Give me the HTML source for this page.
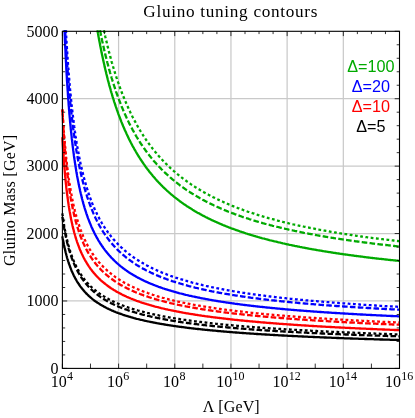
<!DOCTYPE html>
<html><head><meta charset="utf-8"><title>Gluino tuning contours</title>
<style>html,body{margin:0;padding:0;background:#fff;}body{width:415px;height:418px;position:relative;overflow:hidden;font-family:"Liberation Serif",serif;}</style></head>
<body>
<svg width="415" height="418" viewBox="0 0 415 418" style="position:absolute;left:0;top:0;will-change:transform">
<rect width="415" height="418" fill="#fff"/>
<path d="M118.58 31.30 V368.40 M174.77 31.30 V368.40 M230.95 31.30 V368.40 M287.13 31.30 V368.40 M343.32 31.30 V368.40 M62.40 300.98 H399.50 M62.40 233.56 H399.50 M62.40 166.14 H399.50 M62.40 98.72 H399.50" stroke="#000" stroke-opacity="0.21" stroke-width="1.25" fill="none"/>
<g fill="none" stroke-width="2.3" stroke-linejoin="round">
<path d="M97.4 30.3 L97.6 31.3 L97.7 32.1 L97.9 32.9 L98.0 33.7 L98.2 34.5 L98.3 35.3 L98.4 36.1 L98.7 37.6 L99.0 39.2 L99.3 40.7 L99.6 42.2 L99.9 43.7 L100.1 45.2 L100.4 46.6 L100.7 48.1 L101.0 49.5 L101.3 50.9 L101.5 52.3 L101.8 53.6 L102.1 55.0 L102.4 56.3 L102.7 57.7 L103.0 59.0 L103.2 60.3 L103.5 61.6 L103.8 62.8 L104.1 64.1 L104.4 65.3 L104.6 66.6 L104.9 67.8 L105.2 69.0 L105.5 70.2 L105.8 71.4 L106.1 72.5 L106.3 73.7 L106.6 74.8 L106.9 75.9 L107.2 77.1 L107.5 78.2 L107.7 79.3 L108.0 80.4 L108.3 81.4 L108.6 82.5 L108.9 83.6 L109.1 84.6 L109.4 85.6 L109.7 86.7 L110.0 87.7 L110.3 88.7 L110.6 89.7 L110.8 90.6 L111.1 91.6 L111.4 92.6 L111.7 93.5 L112.0 94.5 L112.2 95.4 L112.5 96.4 L112.8 97.3 L113.1 98.2 L113.4 99.1 L113.7 100.0 L113.9 100.9 L114.2 101.8 L114.5 102.6 L114.8 103.5 L115.1 104.3 L115.3 105.2 L115.6 106.0 L115.9 106.9 L116.2 107.7 L116.5 108.5 L116.8 109.3 L117.0 110.1 L117.3 110.9 L117.6 111.7 L117.9 112.5 L118.2 113.3 L118.4 114.1 L119.0 115.6 L119.9 117.8 L120.7 120.0 L121.5 122.1 L122.4 124.2 L123.2 126.2 L124.1 128.2 L124.9 130.2 L125.8 132.0 L126.6 133.9 L127.5 135.7 L128.3 137.5 L129.1 139.2 L130.0 140.9 L130.8 142.5 L131.7 144.2 L132.5 145.8 L133.4 147.3 L134.2 148.8 L135.1 150.3 L135.9 151.8 L136.7 153.2 L137.6 154.6 L138.4 156.0 L139.3 157.3 L140.1 158.7 L141.0 160.0 L141.8 161.2 L142.7 162.5 L143.5 163.7 L144.4 164.9 L145.2 166.1 L146.0 167.3 L146.9 168.4 L147.7 169.5 L148.6 170.6 L149.4 171.7 L150.3 172.8 L151.1 173.8 L152.0 174.8 L152.8 175.9 L153.6 176.8 L154.5 177.8 L155.3 178.8 L156.2 179.7 L157.0 180.7 L157.9 181.6 L158.7 182.5 L159.6 183.4 L160.4 184.2 L161.2 185.1 L162.1 185.9 L162.9 186.8 L163.8 187.6 L164.6 188.4 L165.5 189.2 L166.3 190.0 L167.2 190.8 L168.0 191.5 L168.9 192.3 L169.7 193.0 L170.5 193.8 L171.4 194.5 L172.2 195.2 L173.1 195.9 L173.9 196.6 L174.8 197.3 L175.6 197.9 L176.5 198.6 L177.3 199.2 L178.1 199.9 L179.0 200.5 L179.8 201.2 L180.7 201.8 L181.5 202.4 L182.4 203.0 L183.2 203.6 L184.1 204.2 L184.9 204.7 L185.7 205.3 L186.6 205.9 L187.4 206.4 L188.3 207.0 L189.1 207.5 L190.0 208.1 L190.8 208.6 L191.7 209.1 L192.5 209.7 L193.4 210.2 L194.2 210.7 L195.0 211.2 L195.9 211.7 L196.7 212.2 L197.6 212.7 L198.4 213.1 L199.3 213.6 L200.1 214.1 L201.0 214.5 L201.8 215.0 L202.6 215.4 L203.5 215.9 L204.3 216.3 L205.2 216.8 L206.0 217.2 L206.9 217.6 L207.7 218.1 L208.6 218.5 L209.4 218.9 L210.3 219.3 L211.1 219.7 L211.9 220.1 L212.8 220.5 L213.6 220.9 L214.5 221.3 L215.3 221.7 L216.2 222.0 L217.0 222.4 L217.9 222.8 L218.7 223.2 L219.5 223.5 L220.4 223.9 L221.2 224.2 L222.1 224.6 L222.9 225.0 L223.8 225.3 L224.6 225.6 L225.5 226.0 L226.3 226.3 L227.1 226.7 L228.0 227.0 L228.8 227.3 L229.7 227.6 L230.5 228.0 L231.4 228.3 L232.2 228.6 L233.1 228.9 L233.9 229.2 L234.8 229.5 L235.6 229.8 L236.4 230.1 L237.3 230.4 L238.1 230.7 L239.0 231.0 L239.8 231.3 L240.7 231.6 L241.5 231.9 L242.4 232.2 L243.2 232.4 L244.0 232.7 L244.9 233.0 L245.7 233.3 L246.6 233.5 L247.4 233.8 L248.3 234.1 L249.1 234.3 L250.0 234.6 L250.8 234.9 L251.6 235.1 L252.5 235.4 L253.3 235.6 L254.2 235.9 L255.0 236.1 L255.9 236.4 L256.7 236.6 L257.6 236.9 L258.4 237.1 L259.3 237.3 L260.1 237.6 L260.9 237.8 L261.8 238.1 L262.6 238.3 L263.5 238.5 L264.3 238.7 L265.2 239.0 L266.0 239.2 L266.9 239.4 L267.7 239.6 L268.5 239.8 L269.4 240.1 L270.2 240.3 L271.1 240.5 L271.9 240.7 L272.8 240.9 L273.6 241.1 L274.5 241.3 L275.3 241.5 L276.2 241.7 L277.0 241.9 L277.8 242.1 L278.7 242.3 L279.5 242.5 L280.4 242.7 L281.2 242.9 L282.1 243.1 L282.9 243.3 L283.8 243.5 L284.6 243.7 L285.4 243.9 L286.3 244.1 L287.1 244.3 L288.0 244.4 L288.8 244.6 L289.7 244.8 L290.5 245.0 L291.4 245.2 L292.2 245.4 L293.0 245.5 L293.9 245.7 L294.7 245.9 L295.6 246.1 L296.4 246.2 L297.3 246.4 L298.1 246.6 L299.0 246.7 L299.8 246.9 L300.7 247.1 L301.5 247.2 L302.3 247.4 L303.2 247.6 L304.0 247.7 L304.9 247.9 L305.7 248.0 L306.6 248.2 L307.4 248.4 L308.3 248.5 L309.1 248.7 L309.9 248.8 L310.8 249.0 L311.6 249.1 L312.5 249.3 L313.3 249.4 L314.2 249.6 L315.0 249.7 L315.9 249.9 L316.7 250.0 L317.5 250.2 L318.4 250.3 L319.2 250.4 L320.1 250.6 L320.9 250.7 L321.8 250.9 L322.6 251.0 L323.5 251.2 L324.3 251.3 L325.2 251.4 L326.0 251.6 L326.8 251.7 L327.7 251.8 L328.5 252.0 L329.4 252.1 L330.2 252.2 L331.1 252.4 L331.9 252.5 L332.8 252.6 L333.6 252.8 L334.4 252.9 L335.3 253.0 L336.1 253.1 L337.0 253.3 L337.8 253.4 L338.7 253.5 L339.5 253.6 L340.4 253.8 L341.2 253.9 L342.0 254.0 L342.9 254.1 L343.7 254.3 L344.6 254.4 L345.4 254.5 L346.3 254.6 L347.1 254.7 L348.0 254.8 L348.8 255.0 L349.7 255.1 L350.5 255.2 L351.3 255.3 L352.2 255.4 L353.0 255.5 L353.9 255.6 L354.7 255.8 L355.6 255.9 L356.4 256.0 L357.3 256.1 L358.1 256.2 L358.9 256.3 L359.8 256.4 L360.6 256.5 L361.5 256.6 L362.3 256.7 L363.2 256.8 L364.0 257.0 L364.9 257.1 L365.7 257.2 L366.6 257.3 L367.4 257.4 L368.2 257.5 L369.1 257.6 L369.9 257.7 L370.8 257.8 L371.6 257.9 L372.5 258.0 L373.3 258.1 L374.2 258.2 L375.0 258.3 L375.8 258.4 L376.7 258.5 L377.5 258.6 L378.4 258.7 L379.2 258.8 L380.1 258.9 L380.9 258.9 L381.8 259.0 L382.6 259.1 L383.4 259.2 L384.3 259.3 L385.1 259.4 L386.0 259.5 L386.8 259.6 L387.7 259.7 L388.5 259.8 L389.4 259.9 L390.2 260.0 L391.1 260.1 L391.9 260.1 L392.7 260.2 L393.6 260.3 L394.4 260.4 L395.3 260.5 L396.1 260.6 L397.0 260.7 L397.8 260.7 L398.7 260.8 L399.5 260.9" stroke="#00aa00"/>
<path d="M100.0 30.3 L100.3 31.5 L100.6 32.9 L100.8 34.3 L101.1 35.7 L101.4 37.1 L101.7 38.4 L102.0 39.7 L102.2 41.0 L102.5 42.3 L102.8 43.6 L103.1 44.9 L103.4 46.2 L103.7 47.4 L103.9 48.6 L104.2 49.9 L104.5 51.1 L104.8 52.2 L105.1 53.4 L105.3 54.6 L105.6 55.8 L105.9 56.9 L106.2 58.0 L106.5 59.2 L106.8 60.3 L107.0 61.4 L107.3 62.5 L107.6 63.5 L107.9 64.6 L108.2 65.7 L108.4 66.7 L108.7 67.7 L109.0 68.8 L109.3 69.8 L109.6 70.8 L109.9 71.8 L110.1 72.8 L110.4 73.7 L110.7 74.7 L111.0 75.7 L111.3 76.6 L111.5 77.6 L111.8 78.5 L112.1 79.4 L112.4 80.3 L112.7 81.3 L113.0 82.2 L113.2 83.0 L113.5 83.9 L113.8 84.8 L114.1 85.7 L114.4 86.5 L114.6 87.4 L114.9 88.2 L115.2 89.1 L115.5 89.9 L115.8 90.7 L116.0 91.6 L116.3 92.4 L116.6 93.2 L116.9 94.0 L117.2 94.8 L117.5 95.5 L117.7 96.3 L118.0 97.1 L118.3 97.8 L118.6 98.6 L119.0 99.7 L119.9 101.9 L120.7 104.1 L121.5 106.2 L122.4 108.2 L123.2 110.3 L124.1 112.2 L124.9 114.1 L125.8 116.0 L126.6 117.8 L127.5 119.6 L128.3 121.4 L129.1 123.1 L130.0 124.8 L130.8 126.4 L131.7 128.0 L132.5 129.6 L133.4 131.1 L134.2 132.7 L135.1 134.1 L135.9 135.6 L136.7 137.0 L137.6 138.4 L138.4 139.8 L139.3 141.1 L140.1 142.5 L141.0 143.8 L141.8 145.0 L142.7 146.3 L143.5 147.5 L144.4 148.7 L145.2 149.9 L146.0 151.1 L146.9 152.2 L147.7 153.3 L148.6 154.4 L149.4 155.5 L150.3 156.6 L151.1 157.6 L152.0 158.7 L152.8 159.7 L153.6 160.7 L154.5 161.6 L155.3 162.6 L156.2 163.6 L157.0 164.5 L157.9 165.4 L158.7 166.3 L159.6 167.2 L160.4 168.1 L161.2 169.0 L162.1 169.8 L162.9 170.7 L163.8 171.5 L164.6 172.3 L165.5 173.1 L166.3 173.9 L167.2 174.7 L168.0 175.4 L168.9 176.2 L169.7 176.9 L170.5 177.7 L171.4 178.4 L172.2 179.1 L173.1 179.8 L173.9 180.5 L174.8 181.2 L175.6 181.9 L176.5 182.6 L177.3 183.2 L178.1 183.9 L179.0 184.5 L179.8 185.2 L180.7 185.8 L181.5 186.4 L182.4 187.0 L183.2 187.6 L184.1 188.2 L184.9 188.8 L185.7 189.4 L186.6 190.0 L187.4 190.5 L188.3 191.1 L189.1 191.6 L190.0 192.2 L190.8 192.7 L191.7 193.3 L192.5 193.8 L193.4 194.3 L194.2 194.8 L195.0 195.3 L195.9 195.8 L196.7 196.3 L197.6 196.8 L198.4 197.3 L199.3 197.8 L200.1 198.3 L201.0 198.7 L201.8 199.2 L202.6 199.7 L203.5 200.1 L204.3 200.6 L205.2 201.0 L206.0 201.5 L206.9 201.9 L207.7 202.3 L208.6 202.8 L209.4 203.2 L210.3 203.6 L211.1 204.0 L211.9 204.4 L212.8 204.8 L213.6 205.2 L214.5 205.6 L215.3 206.0 L216.2 206.4 L217.0 206.8 L217.9 207.2 L218.7 207.5 L219.5 207.9 L220.4 208.3 L221.2 208.7 L222.1 209.0 L222.9 209.4 L223.8 209.7 L224.6 210.1 L225.5 210.4 L226.3 210.8 L227.1 211.1 L228.0 211.5 L228.8 211.8 L229.7 212.1 L230.5 212.5 L231.4 212.8 L232.2 213.1 L233.1 213.4 L233.9 213.7 L234.8 214.1 L235.6 214.4 L236.4 214.7 L237.3 215.0 L238.1 215.3 L239.0 215.6 L239.8 215.9 L240.7 216.2 L241.5 216.5 L242.4 216.8 L243.2 217.1 L244.0 217.3 L244.9 217.6 L245.7 217.9 L246.6 218.2 L247.4 218.5 L248.3 218.7 L249.1 219.0 L250.0 219.3 L250.8 219.5 L251.6 219.8 L252.5 220.1 L253.3 220.3 L254.2 220.6 L255.0 220.8 L255.9 221.1 L256.7 221.3 L257.6 221.6 L258.4 221.8 L259.3 222.1 L260.1 222.3 L260.9 222.6 L261.8 222.8 L262.6 223.1 L263.5 223.3 L264.3 223.5 L265.2 223.8 L266.0 224.0 L266.9 224.2 L267.7 224.4 L268.5 224.7 L269.4 224.9 L270.2 225.1 L271.1 225.3 L271.9 225.5 L272.8 225.8 L273.6 226.0 L274.5 226.2 L275.3 226.4 L276.2 226.6 L277.0 226.8 L277.8 227.0 L278.7 227.2 L279.5 227.4 L280.4 227.6 L281.2 227.8 L282.1 228.0 L282.9 228.2 L283.8 228.4 L284.6 228.6 L285.4 228.8 L286.3 229.0 L287.1 229.2 L288.0 229.4 L288.8 229.6 L289.7 229.8 L290.5 230.0 L291.4 230.2 L292.2 230.3 L293.0 230.5 L293.9 230.7 L294.7 230.9 L295.6 231.1 L296.4 231.2 L297.3 231.4 L298.1 231.6 L299.0 231.8 L299.8 231.9 L300.7 232.1 L301.5 232.3 L302.3 232.5 L303.2 232.6 L304.0 232.8 L304.9 233.0 L305.7 233.1 L306.6 233.3 L307.4 233.4 L308.3 233.6 L309.1 233.8 L309.9 233.9 L310.8 234.1 L311.6 234.2 L312.5 234.4 L313.3 234.6 L314.2 234.7 L315.0 234.9 L315.9 235.0 L316.7 235.2 L317.5 235.3 L318.4 235.5 L319.2 235.6 L320.1 235.8 L320.9 235.9 L321.8 236.1 L322.6 236.2 L323.5 236.4 L324.3 236.5 L325.2 236.6 L326.0 236.8 L326.8 236.9 L327.7 237.1 L328.5 237.2 L329.4 237.3 L330.2 237.5 L331.1 237.6 L331.9 237.8 L332.8 237.9 L333.6 238.0 L334.4 238.2 L335.3 238.3 L336.1 238.4 L337.0 238.6 L337.8 238.7 L338.7 238.8 L339.5 238.9 L340.4 239.1 L341.2 239.2 L342.0 239.3 L342.9 239.4 L343.7 239.6 L344.6 239.7 L345.4 239.8 L346.3 239.9 L347.1 240.1 L348.0 240.2 L348.8 240.3 L349.7 240.4 L350.5 240.6 L351.3 240.7 L352.2 240.8 L353.0 240.9 L353.9 241.0 L354.7 241.1 L355.6 241.3 L356.4 241.4 L357.3 241.5 L358.1 241.6 L358.9 241.7 L359.8 241.8 L360.6 241.9 L361.5 242.1 L362.3 242.2 L363.2 242.3 L364.0 242.4 L364.9 242.5 L365.7 242.6 L366.6 242.7 L367.4 242.8 L368.2 242.9 L369.1 243.0 L369.9 243.1 L370.8 243.2 L371.6 243.3 L372.5 243.5 L373.3 243.6 L374.2 243.7 L375.0 243.8 L375.8 243.9 L376.7 244.0 L377.5 244.1 L378.4 244.2 L379.2 244.3 L380.1 244.4 L380.9 244.5 L381.8 244.6 L382.6 244.7 L383.4 244.8 L384.3 244.9 L385.1 245.0 L386.0 245.0 L386.8 245.1 L387.7 245.2 L388.5 245.3 L389.4 245.4 L390.2 245.5 L391.1 245.6 L391.9 245.7 L392.7 245.8 L393.6 245.9 L394.4 246.0 L395.3 246.1 L396.1 246.2 L397.0 246.3 L397.8 246.3 L398.7 246.4 L399.5 246.5" stroke="#00aa00" stroke-dasharray="5.6 2.3"/>
<path d="M103.9 30.3 L104.2 31.7 L104.5 33.0 L104.8 34.2 L105.1 35.5 L105.3 36.7 L105.6 38.0 L105.9 39.2 L106.2 40.4 L106.5 41.6 L106.8 42.8 L107.0 44.0 L107.3 45.1 L107.6 46.3 L107.9 47.4 L108.2 48.5 L108.4 49.7 L108.7 50.8 L109.0 51.9 L109.3 52.9 L109.6 54.0 L109.9 55.1 L110.1 56.1 L110.4 57.2 L110.7 58.2 L111.0 59.2 L111.3 60.2 L111.5 61.3 L111.8 62.3 L112.1 63.2 L112.4 64.2 L112.7 65.2 L113.0 66.1 L113.2 67.1 L113.5 68.0 L113.8 69.0 L114.1 69.9 L114.4 70.8 L114.6 71.7 L114.9 72.6 L115.2 73.5 L115.5 74.4 L115.8 75.3 L116.0 76.2 L116.3 77.0 L116.6 77.9 L116.9 78.7 L117.2 79.6 L117.5 80.4 L117.7 81.3 L118.0 82.1 L118.3 82.9 L118.6 83.7 L119.0 84.9 L119.9 87.3 L120.7 89.6 L121.5 91.8 L122.4 94.0 L123.2 96.1 L124.1 98.2 L124.9 100.3 L125.8 102.3 L126.6 104.2 L127.5 106.1 L128.3 108.0 L129.1 109.8 L130.0 111.6 L130.8 113.4 L131.7 115.1 L132.5 116.8 L133.4 118.4 L134.2 120.1 L135.1 121.6 L135.9 123.2 L136.7 124.7 L137.6 126.2 L138.4 127.7 L139.3 129.1 L140.1 130.5 L141.0 131.9 L141.8 133.2 L142.7 134.6 L143.5 135.9 L144.4 137.2 L145.2 138.4 L146.0 139.7 L146.9 140.9 L147.7 142.1 L148.6 143.3 L149.4 144.4 L150.3 145.6 L151.1 146.7 L152.0 147.8 L152.8 148.9 L153.6 149.9 L154.5 151.0 L155.3 152.0 L156.2 153.0 L157.0 154.0 L157.9 155.0 L158.7 156.0 L159.6 156.9 L160.4 157.8 L161.2 158.8 L162.1 159.7 L162.9 160.6 L163.8 161.5 L164.6 162.3 L165.5 163.2 L166.3 164.0 L167.2 164.9 L168.0 165.7 L168.9 166.5 L169.7 167.3 L170.5 168.1 L171.4 168.8 L172.2 169.6 L173.1 170.4 L173.9 171.1 L174.8 171.8 L175.6 172.6 L176.5 173.3 L177.3 174.0 L178.1 174.7 L179.0 175.4 L179.8 176.0 L180.7 176.7 L181.5 177.4 L182.4 178.0 L183.2 178.7 L184.1 179.3 L184.9 179.9 L185.7 180.5 L186.6 181.2 L187.4 181.8 L188.3 182.4 L189.1 182.9 L190.0 183.5 L190.8 184.1 L191.7 184.7 L192.5 185.2 L193.4 185.8 L194.2 186.3 L195.0 186.9 L195.9 187.4 L196.7 187.9 L197.6 188.5 L198.4 189.0 L199.3 189.5 L200.1 190.0 L201.0 190.5 L201.8 191.0 L202.6 191.5 L203.5 192.0 L204.3 192.5 L205.2 192.9 L206.0 193.4 L206.9 193.9 L207.7 194.3 L208.6 194.8 L209.4 195.2 L210.3 195.7 L211.1 196.1 L211.9 196.5 L212.8 197.0 L213.6 197.4 L214.5 197.8 L215.3 198.2 L216.2 198.6 L217.0 199.1 L217.9 199.5 L218.7 199.9 L219.5 200.3 L220.4 200.7 L221.2 201.0 L222.1 201.4 L222.9 201.8 L223.8 202.2 L224.6 202.6 L225.5 202.9 L226.3 203.3 L227.1 203.7 L228.0 204.0 L228.8 204.4 L229.7 204.7 L230.5 205.1 L231.4 205.4 L232.2 205.8 L233.1 206.1 L233.9 206.5 L234.8 206.8 L235.6 207.1 L236.4 207.4 L237.3 207.8 L238.1 208.1 L239.0 208.4 L239.8 208.7 L240.7 209.0 L241.5 209.4 L242.4 209.7 L243.2 210.0 L244.0 210.3 L244.9 210.6 L245.7 210.9 L246.6 211.2 L247.4 211.5 L248.3 211.8 L249.1 212.0 L250.0 212.3 L250.8 212.6 L251.6 212.9 L252.5 213.2 L253.3 213.4 L254.2 213.7 L255.0 214.0 L255.9 214.3 L256.7 214.5 L257.6 214.8 L258.4 215.1 L259.3 215.3 L260.1 215.6 L260.9 215.8 L261.8 216.1 L262.6 216.3 L263.5 216.6 L264.3 216.8 L265.2 217.1 L266.0 217.3 L266.9 217.6 L267.7 217.8 L268.5 218.1 L269.4 218.3 L270.2 218.5 L271.1 218.8 L271.9 219.0 L272.8 219.2 L273.6 219.4 L274.5 219.7 L275.3 219.9 L276.2 220.1 L277.0 220.3 L277.8 220.6 L278.7 220.8 L279.5 221.0 L280.4 221.2 L281.2 221.4 L282.1 221.6 L282.9 221.9 L283.8 222.1 L284.6 222.3 L285.4 222.5 L286.3 222.7 L287.1 222.9 L288.0 223.1 L288.8 223.3 L289.7 223.5 L290.5 223.7 L291.4 223.9 L292.2 224.1 L293.0 224.3 L293.9 224.5 L294.7 224.7 L295.6 224.8 L296.4 225.0 L297.3 225.2 L298.1 225.4 L299.0 225.6 L299.8 225.8 L300.7 226.0 L301.5 226.1 L302.3 226.3 L303.2 226.5 L304.0 226.7 L304.9 226.8 L305.7 227.0 L306.6 227.2 L307.4 227.4 L308.3 227.5 L309.1 227.7 L309.9 227.9 L310.8 228.0 L311.6 228.2 L312.5 228.4 L313.3 228.5 L314.2 228.7 L315.0 228.9 L315.9 229.0 L316.7 229.2 L317.5 229.4 L318.4 229.5 L319.2 229.7 L320.1 229.8 L320.9 230.0 L321.8 230.1 L322.6 230.3 L323.5 230.4 L324.3 230.6 L325.2 230.7 L326.0 230.9 L326.8 231.0 L327.7 231.2 L328.5 231.3 L329.4 231.5 L330.2 231.6 L331.1 231.8 L331.9 231.9 L332.8 232.1 L333.6 232.2 L334.4 232.4 L335.3 232.5 L336.1 232.6 L337.0 232.8 L337.8 232.9 L338.7 233.0 L339.5 233.2 L340.4 233.3 L341.2 233.5 L342.0 233.6 L342.9 233.7 L343.7 233.9 L344.6 234.0 L345.4 234.1 L346.3 234.2 L347.1 234.4 L348.0 234.5 L348.8 234.6 L349.7 234.8 L350.5 234.9 L351.3 235.0 L352.2 235.1 L353.0 235.3 L353.9 235.4 L354.7 235.5 L355.6 235.6 L356.4 235.8 L357.3 235.9 L358.1 236.0 L358.9 236.1 L359.8 236.2 L360.6 236.4 L361.5 236.5 L362.3 236.6 L363.2 236.7 L364.0 236.8 L364.9 236.9 L365.7 237.1 L366.6 237.2 L367.4 237.3 L368.2 237.4 L369.1 237.5 L369.9 237.6 L370.8 237.7 L371.6 237.8 L372.5 238.0 L373.3 238.1 L374.2 238.2 L375.0 238.3 L375.8 238.4 L376.7 238.5 L377.5 238.6 L378.4 238.7 L379.2 238.8 L380.1 238.9 L380.9 239.0 L381.8 239.1 L382.6 239.2 L383.4 239.3 L384.3 239.4 L385.1 239.5 L386.0 239.6 L386.8 239.7 L387.7 239.8 L388.5 239.9 L389.4 240.0 L390.2 240.1 L391.1 240.2 L391.9 240.3 L392.7 240.4 L393.6 240.5 L394.4 240.6 L395.3 240.7 L396.1 240.8 L397.0 240.9 L397.8 241.0 L398.7 241.1 L399.5 241.2" stroke="#00aa00" stroke-dasharray="2.8 2.5"/>
<path d="M64.5 30.3 L64.7 33.7 L64.8 37.0 L64.9 40.3 L65.1 43.5 L65.2 46.6 L65.4 49.6 L65.5 52.5 L65.6 55.4 L65.8 58.3 L65.9 61.0 L66.1 63.7 L66.2 66.3 L66.3 68.9 L66.5 71.4 L66.6 73.9 L66.8 76.3 L66.9 78.7 L67.0 81.0 L67.2 83.2 L67.3 85.5 L67.5 87.6 L67.6 89.8 L67.8 91.9 L67.9 93.9 L68.0 95.9 L68.2 97.9 L68.3 99.8 L68.5 101.7 L68.6 103.6 L68.7 105.4 L68.9 107.2 L69.0 109.0 L69.2 110.7 L69.3 112.4 L69.4 114.1 L69.6 115.7 L69.7 117.3 L69.9 118.9 L70.0 120.5 L70.1 122.0 L70.3 123.5 L70.4 125.0 L70.6 126.5 L70.7 127.9 L70.8 129.3 L71.0 130.7 L71.1 132.1 L71.3 133.5 L71.4 134.8 L71.6 136.1 L71.7 137.4 L71.8 138.7 L72.0 139.9 L72.1 141.2 L72.3 142.4 L72.4 143.6 L72.5 144.8 L72.7 145.9 L72.8 147.1 L73.0 148.2 L73.1 149.3 L73.2 150.4 L73.4 151.5 L73.5 152.6 L73.7 153.7 L73.8 154.7 L73.9 155.7 L74.1 156.8 L74.2 157.8 L74.4 158.8 L74.5 159.7 L74.7 160.7 L74.8 161.7 L74.9 162.6 L75.1 163.5 L75.2 164.5 L75.4 165.4 L75.5 166.3 L75.6 167.1 L75.8 168.0 L75.9 168.9 L76.1 169.7 L76.2 170.6 L76.3 171.4 L76.5 172.3 L76.6 173.1 L76.8 173.9 L76.9 174.7 L77.0 175.5 L77.3 177.0 L77.6 178.5 L77.9 180.0 L78.2 181.5 L78.5 182.9 L78.7 184.3 L79.0 185.6 L79.3 187.0 L79.6 188.3 L79.9 189.6 L80.1 190.8 L80.4 192.0 L80.7 193.3 L81.0 194.4 L81.3 195.6 L81.6 196.7 L81.8 197.9 L82.1 199.0 L82.4 200.0 L82.7 201.1 L83.0 202.1 L83.2 203.2 L83.5 204.2 L83.8 205.1 L84.1 206.1 L84.4 207.1 L84.6 208.0 L84.9 208.9 L85.2 209.8 L85.5 210.7 L85.8 211.6 L86.1 212.5 L86.3 213.3 L86.6 214.1 L86.9 215.0 L87.2 215.8 L87.5 216.6 L87.7 217.4 L88.0 218.1 L88.3 218.9 L88.6 219.6 L89.0 220.7 L89.4 221.8 L89.9 222.9 L90.3 223.9 L90.7 224.9 L91.1 225.9 L91.5 226.9 L92.0 227.9 L92.4 228.8 L92.8 229.7 L93.2 230.6 L93.7 231.5 L94.1 232.3 L94.5 233.2 L94.9 234.0 L95.3 234.8 L95.8 235.6 L96.2 236.4 L96.6 237.2 L97.0 238.0 L97.5 238.7 L97.9 239.4 L98.3 240.2 L98.7 240.9 L99.2 241.6 L99.6 242.2 L100.1 243.1 L100.7 244.0 L101.3 244.9 L101.8 245.7 L102.4 246.5 L103.0 247.3 L103.5 248.1 L104.1 248.9 L104.6 249.6 L105.2 250.4 L105.8 251.1 L106.3 251.8 L106.9 252.5 L107.5 253.2 L108.0 253.9 L108.6 254.5 L109.1 255.2 L109.7 255.8 L110.3 256.4 L110.8 257.1 L111.4 257.7 L112.0 258.3 L112.5 258.8 L113.1 259.4 L113.8 260.1 L114.5 260.8 L115.2 261.5 L115.9 262.1 L116.6 262.8 L117.3 263.4 L118.0 264.0 L119.0 264.9 L119.9 265.6 L120.7 266.3 L121.5 266.9 L122.4 267.6 L123.2 268.3 L124.1 268.9 L124.9 269.5 L125.8 270.1 L126.6 270.7 L127.5 271.3 L128.3 271.9 L129.1 272.4 L130.0 273.0 L130.8 273.5 L131.7 274.0 L132.5 274.5 L133.4 275.1 L134.2 275.5 L135.1 276.0 L135.9 276.5 L136.7 277.0 L137.6 277.4 L138.4 277.9 L139.3 278.3 L140.1 278.8 L141.0 279.2 L141.8 279.6 L142.7 280.0 L143.5 280.5 L144.4 280.9 L145.2 281.3 L146.0 281.6 L146.9 282.0 L147.7 282.4 L148.6 282.8 L149.4 283.1 L150.3 283.5 L151.1 283.8 L152.0 284.2 L152.8 284.5 L153.6 284.9 L154.5 285.2 L155.3 285.5 L156.2 285.8 L157.0 286.2 L157.9 286.5 L158.7 286.8 L159.6 287.1 L160.4 287.4 L161.2 287.7 L162.1 288.0 L162.9 288.3 L163.8 288.5 L164.6 288.8 L165.5 289.1 L166.3 289.4 L167.2 289.6 L168.0 289.9 L168.9 290.2 L169.7 290.4 L170.5 290.7 L171.4 290.9 L172.2 291.2 L173.1 291.4 L173.9 291.7 L174.8 291.9 L175.6 292.1 L176.5 292.4 L177.3 292.6 L178.1 292.8 L179.0 293.1 L179.8 293.3 L180.7 293.5 L181.5 293.7 L182.4 293.9 L183.2 294.1 L184.1 294.4 L184.9 294.6 L185.7 294.8 L186.6 295.0 L187.4 295.2 L188.3 295.4 L189.1 295.6 L190.0 295.8 L190.8 295.9 L191.7 296.1 L192.5 296.3 L193.4 296.5 L194.2 296.7 L195.0 296.9 L195.9 297.0 L196.7 297.2 L197.6 297.4 L198.4 297.6 L199.3 297.7 L200.1 297.9 L201.0 298.1 L201.8 298.3 L202.6 298.4 L203.5 298.6 L204.3 298.7 L205.2 298.9 L206.0 299.1 L206.9 299.2 L207.7 299.4 L208.6 299.5 L209.4 299.7 L210.3 299.8 L211.1 300.0 L211.9 300.1 L212.8 300.3 L213.6 300.4 L214.5 300.6 L215.3 300.7 L216.2 300.9 L217.0 301.0 L217.9 301.1 L218.7 301.3 L219.5 301.4 L220.4 301.5 L221.2 301.7 L222.1 301.8 L222.9 301.9 L223.8 302.1 L224.6 302.2 L225.5 302.3 L226.3 302.5 L227.1 302.6 L228.0 302.7 L228.8 302.8 L229.7 302.9 L230.5 303.1 L231.4 303.2 L232.2 303.3 L233.1 303.4 L233.9 303.5 L234.8 303.7 L235.6 303.8 L236.4 303.9 L237.3 304.0 L238.1 304.1 L239.0 304.2 L239.8 304.3 L240.7 304.5 L241.5 304.6 L242.4 304.7 L243.2 304.8 L244.0 304.9 L244.9 305.0 L245.7 305.1 L246.6 305.2 L247.4 305.3 L248.3 305.4 L249.1 305.5 L250.0 305.6 L250.8 305.7 L251.6 305.8 L252.5 305.9 L253.3 306.0 L254.2 306.1 L255.0 306.2 L255.9 306.3 L256.7 306.4 L257.6 306.5 L258.4 306.6 L259.3 306.7 L260.1 306.8 L260.9 306.9 L261.8 306.9 L262.6 307.0 L263.5 307.1 L264.3 307.2 L265.2 307.3 L266.0 307.4 L266.9 307.5 L267.7 307.6 L268.5 307.7 L269.4 307.7 L270.2 307.8 L271.1 307.9 L271.9 308.0 L272.8 308.1 L273.6 308.2 L274.5 308.2 L275.3 308.3 L276.2 308.4 L277.0 308.5 L277.8 308.6 L278.7 308.6 L279.5 308.7 L280.4 308.8 L281.2 308.9 L282.1 309.0 L282.9 309.0 L283.8 309.1 L284.6 309.2 L285.4 309.3 L286.3 309.3 L287.1 309.4 L288.0 309.5 L288.8 309.6 L289.7 309.6 L290.5 309.7 L291.4 309.8 L292.2 309.8 L293.0 309.9 L293.9 310.0 L294.7 310.1 L295.6 310.1 L296.4 310.2 L297.3 310.3 L298.1 310.3 L299.0 310.4 L299.8 310.5 L300.7 310.5 L301.5 310.6 L302.3 310.7 L303.2 310.7 L304.0 310.8 L304.9 310.9 L305.7 310.9 L306.6 311.0 L307.4 311.1 L308.3 311.1 L309.1 311.2 L309.9 311.2 L310.8 311.3 L311.6 311.4 L312.5 311.4 L313.3 311.5 L314.2 311.6 L315.0 311.6 L315.9 311.7 L316.7 311.7 L317.5 311.8 L318.4 311.9 L319.2 311.9 L320.1 312.0 L320.9 312.0 L321.8 312.1 L322.6 312.1 L323.5 312.2 L324.3 312.3 L325.2 312.3 L326.0 312.4 L326.8 312.4 L327.7 312.5 L328.5 312.5 L329.4 312.6 L330.2 312.7 L331.1 312.7 L331.9 312.8 L332.8 312.8 L333.6 312.9 L334.4 312.9 L335.3 313.0 L336.1 313.0 L337.0 313.1 L337.8 313.1 L338.7 313.2 L339.5 313.2 L340.4 313.3 L341.2 313.3 L342.0 313.4 L342.9 313.4 L343.7 313.5 L344.6 313.5 L345.4 313.6 L346.3 313.6 L347.1 313.7 L348.0 313.7 L348.8 313.8 L349.7 313.8 L350.5 313.9 L351.3 313.9 L352.2 314.0 L353.0 314.0 L353.9 314.1 L354.7 314.1 L355.6 314.2 L356.4 314.2 L357.3 314.3 L358.1 314.3 L358.9 314.4 L359.8 314.4 L360.6 314.5 L361.5 314.5 L362.3 314.5 L363.2 314.6 L364.0 314.6 L364.9 314.7 L365.7 314.7 L366.6 314.8 L367.4 314.8 L368.2 314.9 L369.1 314.9 L369.9 314.9 L370.8 315.0 L371.6 315.0 L372.5 315.1 L373.3 315.1 L374.2 315.2 L375.0 315.2 L375.8 315.2 L376.7 315.3 L377.5 315.3 L378.4 315.4 L379.2 315.4 L380.1 315.4 L380.9 315.5 L381.8 315.5 L382.6 315.6 L383.4 315.6 L384.3 315.6 L385.1 315.7 L386.0 315.7 L386.8 315.8 L387.7 315.8 L388.5 315.8 L389.4 315.9 L390.2 315.9 L391.1 316.0 L391.9 316.0 L392.7 316.0 L393.6 316.1 L394.4 316.1 L395.3 316.2 L396.1 316.2 L397.0 316.2 L397.8 316.3 L398.7 316.3 L399.5 316.3" stroke="#0000ff"/>
<path d="M65.1 30.3 L65.2 32.4 L65.4 35.0 L65.5 37.6 L65.6 40.1 L65.8 42.5 L65.9 45.0 L66.1 47.3 L66.2 49.6 L66.3 51.9 L66.5 54.2 L66.6 56.4 L66.8 58.5 L66.9 60.6 L67.0 62.7 L67.2 64.8 L67.3 66.8 L67.5 68.8 L67.6 70.7 L67.8 72.6 L67.9 74.5 L68.0 76.4 L68.2 78.2 L68.3 80.0 L68.5 81.7 L68.6 83.5 L68.7 85.2 L68.9 86.9 L69.0 88.5 L69.2 90.2 L69.3 91.8 L69.4 93.3 L69.6 94.9 L69.7 96.4 L69.9 98.0 L70.0 99.5 L70.1 100.9 L70.3 102.4 L70.4 103.8 L70.6 105.2 L70.7 106.6 L70.8 108.0 L71.0 109.3 L71.1 110.7 L71.3 112.0 L71.4 113.3 L71.6 114.6 L71.7 115.8 L71.8 117.1 L72.0 118.3 L72.1 119.5 L72.3 120.7 L72.4 121.9 L72.5 123.1 L72.7 124.3 L72.8 125.4 L73.0 126.5 L73.1 127.6 L73.2 128.7 L73.4 129.8 L73.5 130.9 L73.7 132.0 L73.8 133.0 L73.9 134.0 L74.1 135.1 L74.2 136.1 L74.4 137.1 L74.5 138.1 L74.7 139.1 L74.8 140.0 L74.9 141.0 L75.1 141.9 L75.2 142.9 L75.4 143.8 L75.5 144.7 L75.6 145.6 L75.8 146.5 L75.9 147.4 L76.1 148.3 L76.2 149.1 L76.3 150.0 L76.5 150.8 L76.6 151.7 L76.8 152.5 L76.9 153.3 L77.0 154.1 L77.2 154.9 L77.3 155.7 L77.5 156.5 L77.7 158.1 L78.0 159.6 L78.3 161.1 L78.6 162.5 L78.9 164.0 L79.2 165.4 L79.4 166.8 L79.7 168.1 L80.0 169.5 L80.3 170.8 L80.6 172.0 L80.8 173.3 L81.1 174.5 L81.4 175.8 L81.7 177.0 L82.0 178.1 L82.3 179.3 L82.5 180.4 L82.8 181.5 L83.1 182.6 L83.4 183.7 L83.7 184.8 L83.9 185.8 L84.2 186.9 L84.5 187.9 L84.8 188.9 L85.1 189.8 L85.4 190.8 L85.6 191.8 L85.9 192.7 L86.2 193.6 L86.5 194.5 L86.8 195.4 L87.0 196.3 L87.3 197.2 L87.6 198.0 L87.9 198.9 L88.2 199.7 L88.4 200.5 L88.7 201.3 L89.0 202.1 L89.3 202.9 L89.6 203.7 L89.9 204.5 L90.1 205.2 L90.6 206.3 L91.0 207.4 L91.4 208.5 L91.8 209.6 L92.3 210.6 L92.7 211.6 L93.1 212.6 L93.5 213.6 L93.9 214.5 L94.4 215.5 L94.8 216.4 L95.2 217.3 L95.6 218.2 L96.1 219.1 L96.5 219.9 L96.9 220.8 L97.3 221.6 L97.7 222.4 L98.2 223.2 L98.6 224.0 L99.0 224.8 L99.4 225.5 L99.9 226.3 L100.3 227.0 L100.7 227.8 L101.1 228.5 L101.5 229.2 L102.0 229.9 L102.4 230.6 L103.0 231.5 L103.5 232.3 L104.1 233.2 L104.6 234.0 L105.2 234.9 L105.8 235.7 L106.3 236.5 L106.9 237.3 L107.5 238.0 L108.0 238.8 L108.6 239.5 L109.1 240.2 L109.7 241.0 L110.3 241.7 L110.8 242.4 L111.4 243.0 L112.0 243.7 L112.5 244.4 L113.1 245.0 L113.7 245.6 L114.2 246.3 L114.8 246.9 L115.3 247.5 L115.9 248.1 L116.5 248.6 L117.0 249.2 L117.7 249.9 L118.4 250.6 L119.9 252.0 L120.7 252.7 L121.5 253.5 L122.4 254.3 L123.2 255.0 L124.1 255.7 L124.9 256.4 L125.8 257.1 L126.6 257.8 L127.5 258.4 L128.3 259.1 L129.1 259.7 L130.0 260.3 L130.8 260.9 L131.7 261.5 L132.5 262.1 L133.4 262.7 L134.2 263.3 L135.1 263.8 L135.9 264.4 L136.7 264.9 L137.6 265.4 L138.4 265.9 L139.3 266.4 L140.1 266.9 L141.0 267.4 L141.8 267.9 L142.7 268.4 L143.5 268.9 L144.4 269.3 L145.2 269.8 L146.0 270.2 L146.9 270.6 L147.7 271.1 L148.6 271.5 L149.4 271.9 L150.3 272.3 L151.1 272.7 L152.0 273.1 L152.8 273.5 L153.6 273.9 L154.5 274.3 L155.3 274.6 L156.2 275.0 L157.0 275.4 L157.9 275.7 L158.7 276.1 L159.6 276.4 L160.4 276.8 L161.2 277.1 L162.1 277.4 L162.9 277.8 L163.8 278.1 L164.6 278.4 L165.5 278.7 L166.3 279.0 L167.2 279.3 L168.0 279.6 L168.9 279.9 L169.7 280.2 L170.5 280.5 L171.4 280.8 L172.2 281.1 L173.1 281.4 L173.9 281.6 L174.8 281.9 L175.6 282.2 L176.5 282.5 L177.3 282.7 L178.1 283.0 L179.0 283.2 L179.8 283.5 L180.7 283.7 L181.5 284.0 L182.4 284.2 L183.2 284.5 L184.1 284.7 L184.9 284.9 L185.7 285.2 L186.6 285.4 L187.4 285.6 L188.3 285.9 L189.1 286.1 L190.0 286.3 L190.8 286.5 L191.7 286.7 L192.5 287.0 L193.4 287.2 L194.2 287.4 L195.0 287.6 L195.9 287.8 L196.7 288.0 L197.6 288.2 L198.4 288.4 L199.3 288.6 L200.1 288.8 L201.0 289.0 L201.8 289.2 L202.6 289.4 L203.5 289.5 L204.3 289.7 L205.2 289.9 L206.0 290.1 L206.9 290.3 L207.7 290.4 L208.6 290.6 L209.4 290.8 L210.3 291.0 L211.1 291.1 L211.9 291.3 L212.8 291.5 L213.6 291.6 L214.5 291.8 L215.3 292.0 L216.2 292.1 L217.0 292.3 L217.9 292.4 L218.7 292.6 L219.5 292.8 L220.4 292.9 L221.2 293.1 L222.1 293.2 L222.9 293.4 L223.8 293.5 L224.6 293.7 L225.5 293.8 L226.3 293.9 L227.1 294.1 L228.0 294.2 L228.8 294.4 L229.7 294.5 L230.5 294.7 L231.4 294.8 L232.2 294.9 L233.1 295.1 L233.9 295.2 L234.8 295.3 L235.6 295.5 L236.4 295.6 L237.3 295.7 L238.1 295.9 L239.0 296.0 L239.8 296.1 L240.7 296.2 L241.5 296.4 L242.4 296.5 L243.2 296.6 L244.0 296.7 L244.9 296.8 L245.7 297.0 L246.6 297.1 L247.4 297.2 L248.3 297.3 L249.1 297.4 L250.0 297.5 L250.8 297.7 L251.6 297.8 L252.5 297.9 L253.3 298.0 L254.2 298.1 L255.0 298.2 L255.9 298.3 L256.7 298.4 L257.6 298.5 L258.4 298.6 L259.3 298.8 L260.1 298.9 L260.9 299.0 L261.8 299.1 L262.6 299.2 L263.5 299.3 L264.3 299.4 L265.2 299.5 L266.0 299.6 L266.9 299.7 L267.7 299.8 L268.5 299.9 L269.4 300.0 L270.2 300.1 L271.1 300.2 L271.9 300.3 L272.8 300.3 L273.6 300.4 L274.5 300.5 L275.3 300.6 L276.2 300.7 L277.0 300.8 L277.8 300.9 L278.7 301.0 L279.5 301.1 L280.4 301.2 L281.2 301.3 L282.1 301.3 L282.9 301.4 L283.8 301.5 L284.6 301.6 L285.4 301.7 L286.3 301.8 L287.1 301.9 L288.0 301.9 L288.8 302.0 L289.7 302.1 L290.5 302.2 L291.4 302.3 L292.2 302.4 L293.0 302.4 L293.9 302.5 L294.7 302.6 L295.6 302.7 L296.4 302.7 L297.3 302.8 L298.1 302.9 L299.0 303.0 L299.8 303.1 L300.7 303.1 L301.5 303.2 L302.3 303.3 L303.2 303.4 L304.0 303.4 L304.9 303.5 L305.7 303.6 L306.6 303.7 L307.4 303.7 L308.3 303.8 L309.1 303.9 L309.9 303.9 L310.8 304.0 L311.6 304.1 L312.5 304.2 L313.3 304.2 L314.2 304.3 L315.0 304.4 L315.9 304.4 L316.7 304.5 L317.5 304.6 L318.4 304.6 L319.2 304.7 L320.1 304.8 L320.9 304.8 L321.8 304.9 L322.6 305.0 L323.5 305.0 L324.3 305.1 L325.2 305.2 L326.0 305.2 L326.8 305.3 L327.7 305.3 L328.5 305.4 L329.4 305.5 L330.2 305.5 L331.1 305.6 L331.9 305.7 L332.8 305.7 L333.6 305.8 L334.4 305.8 L335.3 305.9 L336.1 306.0 L337.0 306.0 L337.8 306.1 L338.7 306.1 L339.5 306.2 L340.4 306.3 L341.2 306.3 L342.0 306.4 L342.9 306.4 L343.7 306.5 L344.6 306.5 L345.4 306.6 L346.3 306.7 L347.1 306.7 L348.0 306.8 L348.8 306.8 L349.7 306.9 L350.5 306.9 L351.3 307.0 L352.2 307.0 L353.0 307.1 L353.9 307.1 L354.7 307.2 L355.6 307.3 L356.4 307.3 L357.3 307.4 L358.1 307.4 L358.9 307.5 L359.8 307.5 L360.6 307.6 L361.5 307.6 L362.3 307.7 L363.2 307.7 L364.0 307.8 L364.9 307.8 L365.7 307.9 L366.6 307.9 L367.4 308.0 L368.2 308.0 L369.1 308.1 L369.9 308.1 L370.8 308.2 L371.6 308.2 L372.5 308.3 L373.3 308.3 L374.2 308.4 L375.0 308.4 L375.8 308.5 L376.7 308.5 L377.5 308.5 L378.4 308.6 L379.2 308.6 L380.1 308.7 L380.9 308.7 L381.8 308.8 L382.6 308.8 L383.4 308.9 L384.3 308.9 L385.1 309.0 L386.0 309.0 L386.8 309.0 L387.7 309.1 L388.5 309.1 L389.4 309.2 L390.2 309.2 L391.1 309.3 L391.9 309.3 L392.7 309.4 L393.6 309.4 L394.4 309.4 L395.3 309.5 L396.1 309.5 L397.0 309.6 L397.8 309.6 L398.7 309.7 L399.5 309.7" stroke="#0000ff" stroke-dasharray="5.6 2.3"/>
<path d="M65.9 30.3 L66.1 33.5 L66.2 35.9 L66.3 38.3 L66.5 40.7 L66.6 43.0 L66.8 45.3 L66.9 47.5 L67.0 49.7 L67.2 51.9 L67.3 54.0 L67.5 56.1 L67.6 58.1 L67.8 60.1 L67.9 62.1 L68.0 64.1 L68.2 66.0 L68.3 67.9 L68.5 69.7 L68.6 71.5 L68.7 73.3 L68.9 75.1 L69.0 76.8 L69.2 78.5 L69.3 80.2 L69.4 81.9 L69.6 83.5 L69.7 85.1 L69.9 86.7 L70.0 88.3 L70.1 89.8 L70.3 91.3 L70.4 92.8 L70.6 94.3 L70.7 95.7 L70.8 97.2 L71.0 98.6 L71.1 100.0 L71.3 101.3 L71.4 102.7 L71.6 104.0 L71.7 105.3 L71.8 106.6 L72.0 107.9 L72.1 109.2 L72.3 110.4 L72.4 111.7 L72.5 112.9 L72.7 114.1 L72.8 115.3 L73.0 116.5 L73.1 117.6 L73.2 118.8 L73.4 119.9 L73.5 121.0 L73.7 122.1 L73.8 123.2 L73.9 124.3 L74.1 125.3 L74.2 126.4 L74.4 127.4 L74.5 128.4 L74.7 129.4 L74.8 130.5 L74.9 131.4 L75.1 132.4 L75.2 133.4 L75.4 134.3 L75.5 135.3 L75.6 136.2 L75.8 137.2 L75.9 138.1 L76.1 139.0 L76.2 139.9 L76.3 140.8 L76.5 141.6 L76.6 142.5 L76.8 143.4 L76.9 144.2 L77.0 145.1 L77.2 145.9 L77.3 146.7 L77.5 147.5 L77.6 148.3 L77.7 149.1 L77.9 149.9 L78.2 151.5 L78.5 153.0 L78.7 154.5 L79.0 156.0 L79.3 157.4 L79.6 158.8 L79.9 160.2 L80.1 161.6 L80.4 162.9 L80.7 164.2 L81.0 165.5 L81.3 166.8 L81.6 168.0 L81.8 169.2 L82.1 170.4 L82.4 171.6 L82.7 172.8 L83.0 173.9 L83.2 175.1 L83.5 176.2 L83.8 177.2 L84.1 178.3 L84.4 179.4 L84.6 180.4 L84.9 181.4 L85.2 182.4 L85.5 183.4 L85.8 184.4 L86.1 185.3 L86.3 186.3 L86.6 187.2 L86.9 188.1 L87.2 189.0 L87.5 189.9 L87.7 190.8 L88.0 191.7 L88.3 192.5 L88.6 193.4 L88.9 194.2 L89.2 195.0 L89.4 195.8 L89.7 196.6 L90.0 197.4 L90.3 198.2 L90.6 198.9 L90.8 199.7 L91.3 200.8 L91.7 201.9 L92.1 203.0 L92.5 204.0 L93.0 205.0 L93.4 206.0 L93.8 207.0 L94.2 208.0 L94.6 209.0 L95.1 209.9 L95.5 210.8 L95.9 211.7 L96.3 212.6 L96.8 213.5 L97.2 214.4 L97.6 215.2 L98.0 216.0 L98.4 216.9 L98.9 217.7 L99.3 218.5 L99.7 219.2 L100.1 220.0 L100.6 220.8 L101.0 221.5 L101.4 222.2 L101.8 223.0 L102.2 223.7 L102.7 224.4 L103.1 225.1 L103.7 226.0 L104.2 226.8 L104.8 227.7 L105.3 228.6 L105.9 229.4 L106.5 230.2 L107.0 231.0 L107.6 231.8 L108.2 232.6 L108.7 233.3 L109.3 234.1 L109.9 234.8 L110.4 235.6 L111.0 236.3 L111.5 237.0 L112.1 237.6 L112.7 238.3 L113.2 239.0 L113.8 239.6 L114.4 240.3 L114.9 240.9 L115.5 241.5 L116.0 242.1 L116.6 242.7 L117.2 243.3 L117.7 243.9 L118.3 244.5 L119.0 245.2 L119.9 246.0 L120.7 246.8 L121.5 247.6 L122.4 248.4 L123.2 249.2 L124.1 249.9 L124.9 250.7 L125.8 251.4 L126.6 252.1 L127.5 252.8 L128.3 253.4 L129.1 254.1 L130.0 254.7 L130.8 255.4 L131.7 256.0 L132.5 256.6 L133.4 257.2 L134.2 257.8 L135.1 258.4 L135.9 258.9 L136.7 259.5 L137.6 260.0 L138.4 260.6 L139.3 261.1 L140.1 261.6 L141.0 262.1 L141.8 262.6 L142.7 263.1 L143.5 263.6 L144.4 264.1 L145.2 264.5 L146.0 265.0 L146.9 265.5 L147.7 265.9 L148.6 266.3 L149.4 266.8 L150.3 267.2 L151.1 267.6 L152.0 268.0 L152.8 268.5 L153.6 268.9 L154.5 269.2 L155.3 269.6 L156.2 270.0 L157.0 270.4 L157.9 270.8 L158.7 271.1 L159.6 271.5 L160.4 271.9 L161.2 272.2 L162.1 272.6 L162.9 272.9 L163.8 273.2 L164.6 273.6 L165.5 273.9 L166.3 274.2 L167.2 274.6 L168.0 274.9 L168.9 275.2 L169.7 275.5 L170.5 275.8 L171.4 276.1 L172.2 276.4 L173.1 276.7 L173.9 277.0 L174.8 277.3 L175.6 277.6 L176.5 277.8 L177.3 278.1 L178.1 278.4 L179.0 278.7 L179.8 278.9 L180.7 279.2 L181.5 279.4 L182.4 279.7 L183.2 280.0 L184.1 280.2 L184.9 280.5 L185.7 280.7 L186.6 280.9 L187.4 281.2 L188.3 281.4 L189.1 281.7 L190.0 281.9 L190.8 282.1 L191.7 282.4 L192.5 282.6 L193.4 282.8 L194.2 283.0 L195.0 283.2 L195.9 283.5 L196.7 283.7 L197.6 283.9 L198.4 284.1 L199.3 284.3 L200.1 284.5 L201.0 284.7 L201.8 284.9 L202.6 285.1 L203.5 285.3 L204.3 285.5 L205.2 285.7 L206.0 285.9 L206.9 286.1 L207.7 286.3 L208.6 286.4 L209.4 286.6 L210.3 286.8 L211.1 287.0 L211.9 287.2 L212.8 287.3 L213.6 287.5 L214.5 287.7 L215.3 287.9 L216.2 288.0 L217.0 288.2 L217.9 288.4 L218.7 288.5 L219.5 288.7 L220.4 288.9 L221.2 289.0 L222.1 289.2 L222.9 289.4 L223.8 289.5 L224.6 289.7 L225.5 289.8 L226.3 290.0 L227.1 290.1 L228.0 290.3 L228.8 290.4 L229.7 290.6 L230.5 290.7 L231.4 290.9 L232.2 291.0 L233.1 291.2 L233.9 291.3 L234.8 291.4 L235.6 291.6 L236.4 291.7 L237.3 291.9 L238.1 292.0 L239.0 292.1 L239.8 292.3 L240.7 292.4 L241.5 292.5 L242.4 292.7 L243.2 292.8 L244.0 292.9 L244.9 293.0 L245.7 293.2 L246.6 293.3 L247.4 293.4 L248.3 293.6 L249.1 293.7 L250.0 293.8 L250.8 293.9 L251.6 294.0 L252.5 294.2 L253.3 294.3 L254.2 294.4 L255.0 294.5 L255.9 294.6 L256.7 294.7 L257.6 294.9 L258.4 295.0 L259.3 295.1 L260.1 295.2 L260.9 295.3 L261.8 295.4 L262.6 295.5 L263.5 295.6 L264.3 295.7 L265.2 295.9 L266.0 296.0 L266.9 296.1 L267.7 296.2 L268.5 296.3 L269.4 296.4 L270.2 296.5 L271.1 296.6 L271.9 296.7 L272.8 296.8 L273.6 296.9 L274.5 297.0 L275.3 297.1 L276.2 297.2 L277.0 297.3 L277.8 297.4 L278.7 297.5 L279.5 297.6 L280.4 297.7 L281.2 297.8 L282.1 297.9 L282.9 297.9 L283.8 298.0 L284.6 298.1 L285.4 298.2 L286.3 298.3 L287.1 298.4 L288.0 298.5 L288.8 298.6 L289.7 298.7 L290.5 298.8 L291.4 298.8 L292.2 298.9 L293.0 299.0 L293.9 299.1 L294.7 299.2 L295.6 299.3 L296.4 299.4 L297.3 299.4 L298.1 299.5 L299.0 299.6 L299.8 299.7 L300.7 299.8 L301.5 299.9 L302.3 299.9 L303.2 300.0 L304.0 300.1 L304.9 300.2 L305.7 300.3 L306.6 300.3 L307.4 300.4 L308.3 300.5 L309.1 300.6 L309.9 300.6 L310.8 300.7 L311.6 300.8 L312.5 300.9 L313.3 300.9 L314.2 301.0 L315.0 301.1 L315.9 301.2 L316.7 301.2 L317.5 301.3 L318.4 301.4 L319.2 301.5 L320.1 301.5 L320.9 301.6 L321.8 301.7 L322.6 301.7 L323.5 301.8 L324.3 301.9 L325.2 302.0 L326.0 302.0 L326.8 302.1 L327.7 302.2 L328.5 302.2 L329.4 302.3 L330.2 302.4 L331.1 302.4 L331.9 302.5 L332.8 302.6 L333.6 302.6 L334.4 302.7 L335.3 302.8 L336.1 302.8 L337.0 302.9 L337.8 302.9 L338.7 303.0 L339.5 303.1 L340.4 303.1 L341.2 303.2 L342.0 303.3 L342.9 303.3 L343.7 303.4 L344.6 303.4 L345.4 303.5 L346.3 303.6 L347.1 303.6 L348.0 303.7 L348.8 303.7 L349.7 303.8 L350.5 303.9 L351.3 303.9 L352.2 304.0 L353.0 304.0 L353.9 304.1 L354.7 304.2 L355.6 304.2 L356.4 304.3 L357.3 304.3 L358.1 304.4 L358.9 304.4 L359.8 304.5 L360.6 304.6 L361.5 304.6 L362.3 304.7 L363.2 304.7 L364.0 304.8 L364.9 304.8 L365.7 304.9 L366.6 304.9 L367.4 305.0 L368.2 305.0 L369.1 305.1 L369.9 305.1 L370.8 305.2 L371.6 305.3 L372.5 305.3 L373.3 305.4 L374.2 305.4 L375.0 305.5 L375.8 305.5 L376.7 305.6 L377.5 305.6 L378.4 305.7 L379.2 305.7 L380.1 305.8 L380.9 305.8 L381.8 305.9 L382.6 305.9 L383.4 306.0 L384.3 306.0 L385.1 306.1 L386.0 306.1 L386.8 306.2 L387.7 306.2 L388.5 306.3 L389.4 306.3 L390.2 306.3 L391.1 306.4 L391.9 306.4 L392.7 306.5 L393.6 306.5 L394.4 306.6 L395.3 306.6 L396.1 306.7 L397.0 306.7 L397.8 306.8 L398.7 306.8 L399.5 306.9" stroke="#0000ff" stroke-dasharray="2.8 2.5"/>
<path d="M62.4 137.2 L62.5 139.8 L62.7 142.3 L62.8 144.7 L63.0 147.1 L63.1 149.3 L63.2 151.5 L63.4 153.7 L63.5 155.7 L63.7 157.8 L63.8 159.7 L63.9 161.6 L64.1 163.5 L64.2 165.3 L64.4 167.0 L64.5 168.8 L64.7 170.4 L64.8 172.1 L64.9 173.6 L65.1 175.2 L65.2 176.7 L65.4 178.2 L65.5 179.6 L65.6 181.0 L65.8 182.4 L65.9 183.8 L66.1 185.1 L66.2 186.4 L66.3 187.7 L66.5 188.9 L66.6 190.1 L66.8 191.3 L66.9 192.5 L67.0 193.6 L67.2 194.7 L67.3 195.8 L67.5 196.9 L67.6 198.0 L67.8 199.0 L67.9 200.0 L68.0 201.0 L68.2 202.0 L68.3 203.0 L68.5 203.9 L68.6 204.8 L68.7 205.7 L68.9 206.6 L69.0 207.5 L69.2 208.4 L69.3 209.3 L69.4 210.1 L69.6 210.9 L69.7 211.7 L69.9 212.5 L70.0 213.3 L70.3 214.9 L70.6 216.4 L70.8 217.8 L71.1 219.2 L71.4 220.6 L71.7 221.9 L72.0 223.2 L72.3 224.5 L72.5 225.7 L72.8 226.9 L73.1 228.1 L73.4 229.2 L73.7 230.3 L73.9 231.4 L74.2 232.5 L74.5 233.5 L74.8 234.5 L75.1 235.5 L75.4 236.4 L75.6 237.4 L75.9 238.3 L76.2 239.2 L76.5 240.1 L76.8 240.9 L77.0 241.8 L77.3 242.6 L77.6 243.4 L77.9 244.2 L78.2 245.0 L78.5 245.7 L78.9 246.8 L79.3 247.9 L79.7 249.0 L80.1 250.0 L80.6 251.0 L81.0 252.0 L81.4 252.9 L81.8 253.8 L82.3 254.7 L82.7 255.6 L83.1 256.5 L83.5 257.3 L83.9 258.1 L84.4 258.9 L84.8 259.7 L85.2 260.4 L85.6 261.2 L86.1 261.9 L86.5 262.6 L86.9 263.3 L87.3 264.0 L87.9 264.9 L88.4 265.7 L89.0 266.6 L89.6 267.4 L90.1 268.2 L90.7 269.0 L91.3 269.7 L91.8 270.5 L92.4 271.2 L93.0 271.9 L93.5 272.6 L94.1 273.2 L94.6 273.9 L95.2 274.5 L95.8 275.2 L96.3 275.8 L96.9 276.4 L97.5 277.0 L98.0 277.5 L98.7 278.2 L99.4 278.9 L100.1 279.6 L100.8 280.3 L101.5 280.9 L102.2 281.5 L103.0 282.1 L103.7 282.7 L104.4 283.3 L105.1 283.8 L105.8 284.4 L106.5 284.9 L107.2 285.5 L107.9 286.0 L108.6 286.5 L109.3 287.0 L110.0 287.5 L110.7 288.0 L111.4 288.4 L112.1 288.9 L112.8 289.3 L113.5 289.8 L114.2 290.2 L114.9 290.6 L115.6 291.0 L116.3 291.5 L117.0 291.9 L117.7 292.2 L118.4 292.6 L119.9 293.4 L120.7 293.8 L121.5 294.3 L122.4 294.7 L123.2 295.1 L124.1 295.5 L124.9 295.9 L125.8 296.3 L126.6 296.7 L127.5 297.1 L128.3 297.4 L129.1 297.8 L130.0 298.2 L130.8 298.5 L131.7 298.8 L132.5 299.2 L133.4 299.5 L134.2 299.8 L135.1 300.2 L135.9 300.5 L136.7 300.8 L137.6 301.1 L138.4 301.4 L139.3 301.7 L140.1 302.0 L141.0 302.3 L141.8 302.6 L142.7 302.8 L143.5 303.1 L144.4 303.4 L145.2 303.7 L146.0 303.9 L146.9 304.2 L147.7 304.4 L148.6 304.7 L149.4 304.9 L150.3 305.2 L151.1 305.4 L152.0 305.7 L152.8 305.9 L153.6 306.1 L154.5 306.4 L155.3 306.6 L156.2 306.8 L157.0 307.0 L157.9 307.2 L158.7 307.5 L159.6 307.7 L160.4 307.9 L161.2 308.1 L162.1 308.3 L162.9 308.5 L163.8 308.7 L164.6 308.9 L165.5 309.1 L166.3 309.3 L167.2 309.4 L168.0 309.6 L168.9 309.8 L169.7 310.0 L170.5 310.2 L171.4 310.4 L172.2 310.5 L173.1 310.7 L173.9 310.9 L174.8 311.1 L175.6 311.2 L176.5 311.4 L177.3 311.6 L178.1 311.7 L179.0 311.9 L179.8 312.0 L180.7 312.2 L181.5 312.4 L182.4 312.5 L183.2 312.7 L184.1 312.8 L184.9 313.0 L185.7 313.1 L186.6 313.3 L187.4 313.4 L188.3 313.5 L189.1 313.7 L190.0 313.8 L190.8 314.0 L191.7 314.1 L192.5 314.2 L193.4 314.4 L194.2 314.5 L195.0 314.6 L195.9 314.8 L196.7 314.9 L197.6 315.0 L198.4 315.2 L199.3 315.3 L200.1 315.4 L201.0 315.5 L201.8 315.7 L202.6 315.8 L203.5 315.9 L204.3 316.0 L205.2 316.2 L206.0 316.3 L206.9 316.4 L207.7 316.5 L208.6 316.6 L209.4 316.7 L210.3 316.8 L211.1 317.0 L211.9 317.1 L212.8 317.2 L213.6 317.3 L214.5 317.4 L215.3 317.5 L216.2 317.6 L217.0 317.7 L217.9 317.8 L218.7 317.9 L219.5 318.0 L220.4 318.1 L221.2 318.2 L222.1 318.3 L222.9 318.4 L223.8 318.5 L224.6 318.6 L225.5 318.7 L226.3 318.8 L227.1 318.9 L228.0 319.0 L228.8 319.1 L229.7 319.2 L230.5 319.3 L231.4 319.4 L232.2 319.5 L233.1 319.6 L233.9 319.7 L234.8 319.8 L235.6 319.9 L236.4 319.9 L237.3 320.0 L238.1 320.1 L239.0 320.2 L239.8 320.3 L240.7 320.4 L241.5 320.5 L242.4 320.5 L243.2 320.6 L244.0 320.7 L244.9 320.8 L245.7 320.9 L246.6 321.0 L247.4 321.0 L248.3 321.1 L249.1 321.2 L250.0 321.3 L250.8 321.4 L251.6 321.4 L252.5 321.5 L253.3 321.6 L254.2 321.7 L255.0 321.7 L255.9 321.8 L256.7 321.9 L257.6 322.0 L258.4 322.0 L259.3 322.1 L260.1 322.2 L260.9 322.3 L261.8 322.3 L262.6 322.4 L263.5 322.5 L264.3 322.5 L265.2 322.6 L266.0 322.7 L266.9 322.8 L267.7 322.8 L268.5 322.9 L269.4 323.0 L270.2 323.0 L271.1 323.1 L271.9 323.2 L272.8 323.2 L273.6 323.3 L274.5 323.4 L275.3 323.4 L276.2 323.5 L277.0 323.6 L277.8 323.6 L278.7 323.7 L279.5 323.8 L280.4 323.8 L281.2 323.9 L282.1 323.9 L282.9 324.0 L283.8 324.1 L284.6 324.1 L285.4 324.2 L286.3 324.2 L287.1 324.3 L288.0 324.4 L288.8 324.4 L289.7 324.5 L290.5 324.5 L291.4 324.6 L292.2 324.7 L293.0 324.7 L293.9 324.8 L294.7 324.8 L295.6 324.9 L296.4 324.9 L297.3 325.0 L298.1 325.1 L299.0 325.1 L299.8 325.2 L300.7 325.2 L301.5 325.3 L302.3 325.3 L303.2 325.4 L304.0 325.4 L304.9 325.5 L305.7 325.5 L306.6 325.6 L307.4 325.7 L308.3 325.7 L309.1 325.8 L309.9 325.8 L310.8 325.9 L311.6 325.9 L312.5 326.0 L313.3 326.0 L314.2 326.1 L315.0 326.1 L315.9 326.2 L316.7 326.2 L317.5 326.3 L318.4 326.3 L319.2 326.4 L320.1 326.4 L320.9 326.5 L321.8 326.5 L322.6 326.6 L323.5 326.6 L324.3 326.7 L325.2 326.7 L326.0 326.8 L326.8 326.8 L327.7 326.8 L328.5 326.9 L329.4 326.9 L330.2 327.0 L331.1 327.0 L331.9 327.1 L332.8 327.1 L333.6 327.2 L334.4 327.2 L335.3 327.3 L336.1 327.3 L337.0 327.3 L337.8 327.4 L338.7 327.4 L339.5 327.5 L340.4 327.5 L341.2 327.6 L342.0 327.6 L342.9 327.7 L343.7 327.7 L344.6 327.7 L345.4 327.8 L346.3 327.8 L347.1 327.9 L348.0 327.9 L348.8 327.9 L349.7 328.0 L350.5 328.0 L351.3 328.1 L352.2 328.1 L353.0 328.2 L353.9 328.2 L354.7 328.2 L355.6 328.3 L356.4 328.3 L357.3 328.4 L358.1 328.4 L358.9 328.4 L359.8 328.5 L360.6 328.5 L361.5 328.6 L362.3 328.6 L363.2 328.6 L364.0 328.7 L364.9 328.7 L365.7 328.7 L366.6 328.8 L367.4 328.8 L368.2 328.9 L369.1 328.9 L369.9 328.9 L370.8 329.0 L371.6 329.0 L372.5 329.0 L373.3 329.1 L374.2 329.1 L375.0 329.2 L375.8 329.2 L376.7 329.2 L377.5 329.3 L378.4 329.3 L379.2 329.3 L380.1 329.4 L380.9 329.4 L381.8 329.4 L382.6 329.5 L383.4 329.5 L384.3 329.5 L385.1 329.6 L386.0 329.6 L386.8 329.6 L387.7 329.7 L388.5 329.7 L389.4 329.7 L390.2 329.8 L391.1 329.8 L391.9 329.9 L392.7 329.9 L393.6 329.9 L394.4 330.0 L395.3 330.0 L396.1 330.0 L397.0 330.1 L397.8 330.1 L398.7 330.1 L399.5 330.1" stroke="#ff0000"/>
<path d="M62.4 109.6 L62.5 112.4 L62.7 115.1 L62.8 117.7 L63.0 120.2 L63.1 122.7 L63.2 125.1 L63.4 127.4 L63.5 129.6 L63.7 131.8 L63.8 134.0 L63.9 136.1 L64.1 138.1 L64.2 140.1 L64.4 142.0 L64.5 143.9 L64.7 145.7 L64.8 147.5 L64.9 149.3 L65.1 151.0 L65.2 152.7 L65.4 154.3 L65.5 155.9 L65.6 157.5 L65.8 159.0 L65.9 160.5 L66.1 162.0 L66.2 163.4 L66.3 164.8 L66.5 166.2 L66.6 167.6 L66.8 168.9 L66.9 170.2 L67.0 171.5 L67.2 172.7 L67.3 174.0 L67.5 175.2 L67.6 176.3 L67.8 177.5 L67.9 178.6 L68.0 179.8 L68.2 180.9 L68.3 182.0 L68.5 183.0 L68.6 184.1 L68.7 185.1 L68.9 186.1 L69.0 187.1 L69.2 188.1 L69.3 189.0 L69.4 190.0 L69.6 190.9 L69.7 191.8 L69.9 192.7 L70.0 193.6 L70.1 194.5 L70.3 195.4 L70.4 196.2 L70.6 197.1 L70.7 197.9 L70.8 198.7 L71.0 199.5 L71.1 200.3 L71.4 201.9 L71.7 203.4 L72.0 204.8 L72.3 206.3 L72.5 207.6 L72.8 209.0 L73.1 210.3 L73.4 211.6 L73.7 212.9 L73.9 214.1 L74.2 215.3 L74.5 216.4 L74.8 217.6 L75.1 218.7 L75.4 219.8 L75.6 220.9 L75.9 221.9 L76.2 222.9 L76.5 223.9 L76.8 224.9 L77.0 225.9 L77.3 226.8 L77.6 227.7 L77.9 228.6 L78.2 229.5 L78.5 230.4 L78.7 231.2 L79.0 232.0 L79.3 232.9 L79.6 233.7 L79.9 234.4 L80.1 235.2 L80.4 236.0 L80.8 237.1 L81.3 238.2 L81.7 239.2 L82.1 240.3 L82.5 241.3 L83.0 242.2 L83.4 243.2 L83.8 244.1 L84.2 245.0 L84.6 245.9 L85.1 246.8 L85.5 247.7 L85.9 248.5 L86.3 249.3 L86.8 250.1 L87.2 250.9 L87.6 251.6 L88.0 252.4 L88.4 253.1 L88.9 253.8 L89.3 254.5 L89.7 255.2 L90.3 256.1 L90.8 257.0 L91.4 257.9 L92.0 258.7 L92.5 259.5 L93.1 260.3 L93.7 261.1 L94.2 261.8 L94.8 262.6 L95.3 263.3 L95.9 264.0 L96.5 264.7 L97.0 265.4 L97.6 266.0 L98.2 266.7 L98.7 267.3 L99.3 267.9 L99.9 268.5 L100.4 269.1 L101.0 269.7 L101.5 270.3 L102.2 271.0 L103.0 271.7 L103.7 272.3 L104.4 273.0 L105.1 273.6 L105.8 274.3 L106.5 274.9 L107.2 275.5 L107.9 276.0 L108.6 276.6 L109.3 277.2 L110.0 277.7 L110.7 278.3 L111.4 278.8 L112.1 279.3 L112.8 279.8 L113.5 280.3 L114.2 280.8 L114.9 281.3 L115.6 281.7 L116.3 282.2 L117.0 282.7 L117.7 283.1 L118.4 283.5 L119.9 284.4 L120.7 284.9 L121.5 285.4 L122.4 285.8 L123.2 286.3 L124.1 286.8 L124.9 287.2 L125.8 287.6 L126.6 288.1 L127.5 288.5 L128.3 288.9 L129.1 289.3 L130.0 289.7 L130.8 290.1 L131.7 290.5 L132.5 290.9 L133.4 291.2 L134.2 291.6 L135.1 292.0 L135.9 292.3 L136.7 292.7 L137.6 293.0 L138.4 293.3 L139.3 293.7 L140.1 294.0 L141.0 294.3 L141.8 294.6 L142.7 294.9 L143.5 295.3 L144.4 295.6 L145.2 295.9 L146.0 296.1 L146.9 296.4 L147.7 296.7 L148.6 297.0 L149.4 297.3 L150.3 297.5 L151.1 297.8 L152.0 298.1 L152.8 298.3 L153.6 298.6 L154.5 298.8 L155.3 299.1 L156.2 299.3 L157.0 299.6 L157.9 299.8 L158.7 300.1 L159.6 300.3 L160.4 300.5 L161.2 300.8 L162.1 301.0 L162.9 301.2 L163.8 301.4 L164.6 301.6 L165.5 301.9 L166.3 302.1 L167.2 302.3 L168.0 302.5 L168.9 302.7 L169.7 302.9 L170.5 303.1 L171.4 303.3 L172.2 303.5 L173.1 303.7 L173.9 303.9 L174.8 304.0 L175.6 304.2 L176.5 304.4 L177.3 304.6 L178.1 304.8 L179.0 305.0 L179.8 305.1 L180.7 305.3 L181.5 305.5 L182.4 305.6 L183.2 305.8 L184.1 306.0 L184.9 306.1 L185.7 306.3 L186.6 306.5 L187.4 306.6 L188.3 306.8 L189.1 306.9 L190.0 307.1 L190.8 307.3 L191.7 307.4 L192.5 307.6 L193.4 307.7 L194.2 307.9 L195.0 308.0 L195.9 308.1 L196.7 308.3 L197.6 308.4 L198.4 308.6 L199.3 308.7 L200.1 308.8 L201.0 309.0 L201.8 309.1 L202.6 309.3 L203.5 309.4 L204.3 309.5 L205.2 309.6 L206.0 309.8 L206.9 309.9 L207.7 310.0 L208.6 310.2 L209.4 310.3 L210.3 310.4 L211.1 310.5 L211.9 310.7 L212.8 310.8 L213.6 310.9 L214.5 311.0 L215.3 311.1 L216.2 311.2 L217.0 311.4 L217.9 311.5 L218.7 311.6 L219.5 311.7 L220.4 311.8 L221.2 311.9 L222.1 312.0 L222.9 312.1 L223.8 312.3 L224.6 312.4 L225.5 312.5 L226.3 312.6 L227.1 312.7 L228.0 312.8 L228.8 312.9 L229.7 313.0 L230.5 313.1 L231.4 313.2 L232.2 313.3 L233.1 313.4 L233.9 313.5 L234.8 313.6 L235.6 313.7 L236.4 313.8 L237.3 313.9 L238.1 314.0 L239.0 314.1 L239.8 314.2 L240.7 314.2 L241.5 314.3 L242.4 314.4 L243.2 314.5 L244.0 314.6 L244.9 314.7 L245.7 314.8 L246.6 314.9 L247.4 315.0 L248.3 315.1 L249.1 315.1 L250.0 315.2 L250.8 315.3 L251.6 315.4 L252.5 315.5 L253.3 315.6 L254.2 315.6 L255.0 315.7 L255.9 315.8 L256.7 315.9 L257.6 316.0 L258.4 316.1 L259.3 316.1 L260.1 316.2 L260.9 316.3 L261.8 316.4 L262.6 316.4 L263.5 316.5 L264.3 316.6 L265.2 316.7 L266.0 316.8 L266.9 316.8 L267.7 316.9 L268.5 317.0 L269.4 317.1 L270.2 317.1 L271.1 317.2 L271.9 317.3 L272.8 317.3 L273.6 317.4 L274.5 317.5 L275.3 317.6 L276.2 317.6 L277.0 317.7 L277.8 317.8 L278.7 317.8 L279.5 317.9 L280.4 318.0 L281.2 318.0 L282.1 318.1 L282.9 318.2 L283.8 318.2 L284.6 318.3 L285.4 318.4 L286.3 318.4 L287.1 318.5 L288.0 318.6 L288.8 318.6 L289.7 318.7 L290.5 318.8 L291.4 318.8 L292.2 318.9 L293.0 318.9 L293.9 319.0 L294.7 319.1 L295.6 319.1 L296.4 319.2 L297.3 319.3 L298.1 319.3 L299.0 319.4 L299.8 319.4 L300.7 319.5 L301.5 319.5 L302.3 319.6 L303.2 319.7 L304.0 319.7 L304.9 319.8 L305.7 319.8 L306.6 319.9 L307.4 320.0 L308.3 320.0 L309.1 320.1 L309.9 320.1 L310.8 320.2 L311.6 320.2 L312.5 320.3 L313.3 320.3 L314.2 320.4 L315.0 320.5 L315.9 320.5 L316.7 320.6 L317.5 320.6 L318.4 320.7 L319.2 320.7 L320.1 320.8 L320.9 320.8 L321.8 320.9 L322.6 320.9 L323.5 321.0 L324.3 321.0 L325.2 321.1 L326.0 321.1 L326.8 321.2 L327.7 321.2 L328.5 321.3 L329.4 321.3 L330.2 321.4 L331.1 321.4 L331.9 321.5 L332.8 321.5 L333.6 321.6 L334.4 321.6 L335.3 321.7 L336.1 321.7 L337.0 321.8 L337.8 321.8 L338.7 321.9 L339.5 321.9 L340.4 322.0 L341.2 322.0 L342.0 322.0 L342.9 322.1 L343.7 322.1 L344.6 322.2 L345.4 322.2 L346.3 322.3 L347.1 322.3 L348.0 322.4 L348.8 322.4 L349.7 322.5 L350.5 322.5 L351.3 322.5 L352.2 322.6 L353.0 322.6 L353.9 322.7 L354.7 322.7 L355.6 322.8 L356.4 322.8 L357.3 322.8 L358.1 322.9 L358.9 322.9 L359.8 323.0 L360.6 323.0 L361.5 323.1 L362.3 323.1 L363.2 323.1 L364.0 323.2 L364.9 323.2 L365.7 323.3 L366.6 323.3 L367.4 323.3 L368.2 323.4 L369.1 323.4 L369.9 323.5 L370.8 323.5 L371.6 323.5 L372.5 323.6 L373.3 323.6 L374.2 323.7 L375.0 323.7 L375.8 323.7 L376.7 323.8 L377.5 323.8 L378.4 323.8 L379.2 323.9 L380.1 323.9 L380.9 324.0 L381.8 324.0 L382.6 324.0 L383.4 324.1 L384.3 324.1 L385.1 324.1 L386.0 324.2 L386.8 324.2 L387.7 324.3 L388.5 324.3 L389.4 324.3 L390.2 324.4 L391.1 324.4 L391.9 324.4 L392.7 324.5 L393.6 324.5 L394.4 324.5 L395.3 324.6 L396.1 324.6 L397.0 324.6 L397.8 324.7 L398.7 324.7 L399.5 324.8" stroke="#ff0000" stroke-dasharray="5.6 2.3"/>
<path d="M62.4 109.2 L62.5 111.6 L62.7 113.9 L62.8 116.1 L63.0 118.3 L63.1 120.5 L63.2 122.6 L63.4 124.6 L63.5 126.6 L63.7 128.6 L63.8 130.5 L63.9 132.4 L64.1 134.2 L64.2 136.0 L64.4 137.8 L64.5 139.5 L64.7 141.1 L64.8 142.8 L64.9 144.4 L65.1 146.0 L65.2 147.5 L65.4 149.0 L65.5 150.5 L65.6 152.0 L65.8 153.4 L65.9 154.8 L66.1 156.2 L66.2 157.5 L66.3 158.8 L66.5 160.1 L66.6 161.4 L66.8 162.7 L66.9 163.9 L67.0 165.1 L67.2 166.3 L67.3 167.5 L67.5 168.6 L67.6 169.8 L67.8 170.9 L67.9 172.0 L68.0 173.1 L68.2 174.1 L68.3 175.2 L68.5 176.2 L68.6 177.2 L68.7 178.2 L68.9 179.2 L69.0 180.2 L69.2 181.1 L69.3 182.1 L69.4 183.0 L69.6 183.9 L69.7 184.8 L69.9 185.7 L70.0 186.6 L70.1 187.4 L70.3 188.3 L70.4 189.1 L70.6 189.9 L70.7 190.7 L70.8 191.5 L71.0 192.3 L71.3 193.9 L71.6 195.4 L71.8 196.9 L72.1 198.3 L72.4 199.7 L72.7 201.1 L73.0 202.4 L73.2 203.8 L73.5 205.0 L73.8 206.3 L74.1 207.5 L74.4 208.7 L74.7 209.9 L74.9 211.0 L75.2 212.1 L75.5 213.2 L75.8 214.3 L76.1 215.3 L76.3 216.3 L76.6 217.3 L76.9 218.3 L77.2 219.3 L77.5 220.2 L77.7 221.2 L78.0 222.1 L78.3 223.0 L78.6 223.9 L78.9 224.7 L79.2 225.6 L79.4 226.4 L79.7 227.2 L80.0 228.0 L80.3 228.8 L80.6 229.6 L80.8 230.3 L81.1 231.1 L81.6 232.2 L82.0 233.3 L82.4 234.3 L82.8 235.3 L83.2 236.3 L83.7 237.3 L84.1 238.3 L84.5 239.2 L84.9 240.1 L85.4 241.0 L85.8 241.9 L86.2 242.7 L86.6 243.6 L87.0 244.4 L87.5 245.2 L87.9 246.0 L88.3 246.7 L88.7 247.5 L89.2 248.2 L89.6 249.0 L90.0 249.7 L90.4 250.4 L90.8 251.1 L91.4 252.0 L92.0 252.8 L92.5 253.7 L93.1 254.5 L93.7 255.3 L94.2 256.1 L94.8 256.9 L95.3 257.7 L95.9 258.4 L96.5 259.1 L97.0 259.8 L97.6 260.5 L98.2 261.2 L98.7 261.9 L99.3 262.6 L99.9 263.2 L100.4 263.8 L101.0 264.4 L101.5 265.0 L102.1 265.6 L102.7 266.2 L103.2 266.8 L103.9 267.5 L104.6 268.2 L105.3 268.8 L106.1 269.5 L106.8 270.1 L107.5 270.8 L108.2 271.4 L108.9 272.0 L109.6 272.6 L110.3 273.1 L111.0 273.7 L111.7 274.3 L112.4 274.8 L113.1 275.3 L113.8 275.9 L114.5 276.4 L115.2 276.9 L115.9 277.4 L116.6 277.8 L117.3 278.3 L118.0 278.8 L119.0 279.4 L119.9 280.0 L120.7 280.5 L121.5 281.0 L122.4 281.5 L123.2 282.0 L124.1 282.5 L124.9 283.0 L125.8 283.4 L126.6 283.9 L127.5 284.3 L128.3 284.8 L129.1 285.2 L130.0 285.6 L130.8 286.0 L131.7 286.4 L132.5 286.8 L133.4 287.2 L134.2 287.6 L135.1 288.0 L135.9 288.4 L136.7 288.7 L137.6 289.1 L138.4 289.5 L139.3 289.8 L140.1 290.2 L141.0 290.5 L141.8 290.8 L142.7 291.2 L143.5 291.5 L144.4 291.8 L145.2 292.1 L146.0 292.4 L146.9 292.7 L147.7 293.0 L148.6 293.3 L149.4 293.6 L150.3 293.9 L151.1 294.2 L152.0 294.5 L152.8 294.8 L153.6 295.0 L154.5 295.3 L155.3 295.6 L156.2 295.8 L157.0 296.1 L157.9 296.3 L158.7 296.6 L159.6 296.8 L160.4 297.1 L161.2 297.3 L162.1 297.6 L162.9 297.8 L163.8 298.0 L164.6 298.3 L165.5 298.5 L166.3 298.7 L167.2 298.9 L168.0 299.1 L168.9 299.4 L169.7 299.6 L170.5 299.8 L171.4 300.0 L172.2 300.2 L173.1 300.4 L173.9 300.6 L174.8 300.8 L175.6 301.0 L176.5 301.2 L177.3 301.4 L178.1 301.6 L179.0 301.8 L179.8 301.9 L180.7 302.1 L181.5 302.3 L182.4 302.5 L183.2 302.7 L184.1 302.8 L184.9 303.0 L185.7 303.2 L186.6 303.4 L187.4 303.5 L188.3 303.7 L189.1 303.9 L190.0 304.0 L190.8 304.2 L191.7 304.3 L192.5 304.5 L193.4 304.7 L194.2 304.8 L195.0 305.0 L195.9 305.1 L196.7 305.3 L197.6 305.4 L198.4 305.6 L199.3 305.7 L200.1 305.9 L201.0 306.0 L201.8 306.2 L202.6 306.3 L203.5 306.4 L204.3 306.6 L205.2 306.7 L206.0 306.8 L206.9 307.0 L207.7 307.1 L208.6 307.2 L209.4 307.4 L210.3 307.5 L211.1 307.6 L211.9 307.8 L212.8 307.9 L213.6 308.0 L214.5 308.1 L215.3 308.3 L216.2 308.4 L217.0 308.5 L217.9 308.6 L218.7 308.8 L219.5 308.9 L220.4 309.0 L221.2 309.1 L222.1 309.2 L222.9 309.3 L223.8 309.5 L224.6 309.6 L225.5 309.7 L226.3 309.8 L227.1 309.9 L228.0 310.0 L228.8 310.1 L229.7 310.2 L230.5 310.3 L231.4 310.4 L232.2 310.5 L233.1 310.6 L233.9 310.7 L234.8 310.9 L235.6 311.0 L236.4 311.1 L237.3 311.2 L238.1 311.3 L239.0 311.4 L239.8 311.5 L240.7 311.5 L241.5 311.6 L242.4 311.7 L243.2 311.8 L244.0 311.9 L244.9 312.0 L245.7 312.1 L246.6 312.2 L247.4 312.3 L248.3 312.4 L249.1 312.5 L250.0 312.6 L250.8 312.7 L251.6 312.8 L252.5 312.8 L253.3 312.9 L254.2 313.0 L255.0 313.1 L255.9 313.2 L256.7 313.3 L257.6 313.4 L258.4 313.4 L259.3 313.5 L260.1 313.6 L260.9 313.7 L261.8 313.8 L262.6 313.9 L263.5 313.9 L264.3 314.0 L265.2 314.1 L266.0 314.2 L266.9 314.3 L267.7 314.3 L268.5 314.4 L269.4 314.5 L270.2 314.6 L271.1 314.6 L271.9 314.7 L272.8 314.8 L273.6 314.9 L274.5 314.9 L275.3 315.0 L276.2 315.1 L277.0 315.2 L277.8 315.2 L278.7 315.3 L279.5 315.4 L280.4 315.4 L281.2 315.5 L282.1 315.6 L282.9 315.7 L283.8 315.7 L284.6 315.8 L285.4 315.9 L286.3 315.9 L287.1 316.0 L288.0 316.1 L288.8 316.1 L289.7 316.2 L290.5 316.3 L291.4 316.3 L292.2 316.4 L293.0 316.5 L293.9 316.5 L294.7 316.6 L295.6 316.7 L296.4 316.7 L297.3 316.8 L298.1 316.8 L299.0 316.9 L299.8 317.0 L300.7 317.0 L301.5 317.1 L302.3 317.2 L303.2 317.2 L304.0 317.3 L304.9 317.3 L305.7 317.4 L306.6 317.5 L307.4 317.5 L308.3 317.6 L309.1 317.6 L309.9 317.7 L310.8 317.8 L311.6 317.8 L312.5 317.9 L313.3 317.9 L314.2 318.0 L315.0 318.0 L315.9 318.1 L316.7 318.1 L317.5 318.2 L318.4 318.3 L319.2 318.3 L320.1 318.4 L320.9 318.4 L321.8 318.5 L322.6 318.5 L323.5 318.6 L324.3 318.6 L325.2 318.7 L326.0 318.7 L326.8 318.8 L327.7 318.8 L328.5 318.9 L329.4 319.0 L330.2 319.0 L331.1 319.1 L331.9 319.1 L332.8 319.2 L333.6 319.2 L334.4 319.3 L335.3 319.3 L336.1 319.4 L337.0 319.4 L337.8 319.5 L338.7 319.5 L339.5 319.6 L340.4 319.6 L341.2 319.6 L342.0 319.7 L342.9 319.7 L343.7 319.8 L344.6 319.8 L345.4 319.9 L346.3 319.9 L347.1 320.0 L348.0 320.0 L348.8 320.1 L349.7 320.1 L350.5 320.2 L351.3 320.2 L352.2 320.3 L353.0 320.3 L353.9 320.3 L354.7 320.4 L355.6 320.4 L356.4 320.5 L357.3 320.5 L358.1 320.6 L358.9 320.6 L359.8 320.7 L360.6 320.7 L361.5 320.7 L362.3 320.8 L363.2 320.8 L364.0 320.9 L364.9 320.9 L365.7 321.0 L366.6 321.0 L367.4 321.0 L368.2 321.1 L369.1 321.1 L369.9 321.2 L370.8 321.2 L371.6 321.2 L372.5 321.3 L373.3 321.3 L374.2 321.4 L375.0 321.4 L375.8 321.4 L376.7 321.5 L377.5 321.5 L378.4 321.6 L379.2 321.6 L380.1 321.6 L380.9 321.7 L381.8 321.7 L382.6 321.8 L383.4 321.8 L384.3 321.8 L385.1 321.9 L386.0 321.9 L386.8 322.0 L387.7 322.0 L388.5 322.0 L389.4 322.1 L390.2 322.1 L391.1 322.1 L391.9 322.2 L392.7 322.2 L393.6 322.2 L394.4 322.3 L395.3 322.3 L396.1 322.4 L397.0 322.4 L397.8 322.4 L398.7 322.5 L399.5 322.5" stroke="#ff0000" stroke-dasharray="2.8 2.5"/>
<path d="M62.4 236.4 L62.5 237.2 L62.7 238.1 L62.8 238.9 L63.1 240.4 L63.4 241.9 L63.7 243.3 L63.9 244.7 L64.2 246.1 L64.5 247.4 L64.8 248.7 L65.1 249.9 L65.4 251.1 L65.6 252.2 L65.9 253.3 L66.2 254.4 L66.5 255.5 L66.8 256.5 L67.0 257.5 L67.3 258.5 L67.6 259.4 L67.9 260.4 L68.2 261.3 L68.5 262.1 L68.7 263.0 L69.0 263.8 L69.3 264.6 L69.6 265.4 L69.9 266.2 L70.1 267.0 L70.6 268.1 L71.0 269.1 L71.4 270.2 L71.8 271.2 L72.3 272.2 L72.7 273.1 L73.1 274.0 L73.5 274.9 L73.9 275.8 L74.4 276.6 L74.8 277.4 L75.2 278.2 L75.6 279.0 L76.1 279.7 L76.5 280.5 L76.9 281.2 L77.3 281.9 L77.9 282.8 L78.5 283.6 L79.0 284.5 L79.6 285.3 L80.1 286.1 L80.7 286.9 L81.3 287.6 L81.8 288.3 L82.4 289.0 L83.0 289.7 L83.5 290.4 L84.1 291.0 L84.6 291.7 L85.2 292.3 L85.8 292.9 L86.3 293.5 L86.9 294.0 L87.6 294.7 L88.3 295.4 L89.0 296.1 L89.7 296.7 L90.4 297.3 L91.1 297.9 L91.8 298.5 L92.5 299.1 L93.2 299.6 L93.9 300.2 L94.6 300.7 L95.3 301.2 L96.1 301.7 L96.8 302.2 L97.5 302.7 L98.2 303.1 L98.9 303.6 L99.6 304.0 L100.3 304.5 L101.0 304.9 L101.7 305.3 L102.4 305.7 L103.1 306.1 L103.8 306.5 L104.5 306.9 L105.3 307.3 L106.2 307.8 L107.0 308.2 L107.9 308.6 L108.7 309.0 L109.6 309.4 L110.4 309.8 L111.3 310.2 L112.1 310.6 L113.0 310.9 L113.8 311.3 L114.6 311.6 L115.5 312.0 L116.3 312.3 L117.2 312.6 L118.0 313.0 L119.0 313.3 L119.9 313.6 L120.7 313.9 L121.5 314.2 L122.4 314.5 L123.2 314.8 L124.1 315.1 L124.9 315.4 L125.8 315.7 L126.6 315.9 L127.5 316.2 L128.3 316.4 L129.1 316.7 L130.0 316.9 L130.8 317.2 L131.7 317.4 L132.5 317.7 L133.4 317.9 L134.2 318.1 L135.1 318.3 L135.9 318.6 L136.7 318.8 L137.6 319.0 L138.4 319.2 L139.3 319.4 L140.1 319.6 L141.0 319.8 L141.8 320.0 L142.7 320.2 L143.5 320.4 L144.4 320.6 L145.2 320.8 L146.0 321.0 L146.9 321.2 L147.7 321.3 L148.6 321.5 L149.4 321.7 L150.3 321.9 L151.1 322.0 L152.0 322.2 L152.8 322.4 L153.6 322.5 L154.5 322.7 L155.3 322.9 L156.2 323.0 L157.0 323.2 L157.9 323.3 L158.7 323.5 L159.6 323.6 L160.4 323.8 L161.2 323.9 L162.1 324.1 L162.9 324.2 L163.8 324.4 L164.6 324.5 L165.5 324.6 L166.3 324.8 L167.2 324.9 L168.0 325.1 L168.9 325.2 L169.7 325.3 L170.5 325.4 L171.4 325.6 L172.2 325.7 L173.1 325.8 L173.9 326.0 L174.8 326.1 L175.6 326.2 L176.5 326.3 L177.3 326.4 L178.1 326.6 L179.0 326.7 L179.8 326.8 L180.7 326.9 L181.5 327.0 L182.4 327.1 L183.2 327.2 L184.1 327.3 L184.9 327.4 L185.7 327.6 L186.6 327.7 L187.4 327.8 L188.3 327.9 L189.1 328.0 L190.0 328.1 L190.8 328.2 L191.7 328.3 L192.5 328.4 L193.4 328.5 L194.2 328.6 L195.0 328.7 L195.9 328.8 L196.7 328.9 L197.6 329.0 L198.4 329.0 L199.3 329.1 L200.1 329.2 L201.0 329.3 L201.8 329.4 L202.6 329.5 L203.5 329.6 L204.3 329.7 L205.2 329.8 L206.0 329.8 L206.9 329.9 L207.7 330.0 L208.6 330.1 L209.4 330.2 L210.3 330.3 L211.1 330.3 L211.9 330.4 L212.8 330.5 L213.6 330.6 L214.5 330.7 L215.3 330.7 L216.2 330.8 L217.0 330.9 L217.9 331.0 L218.7 331.1 L219.5 331.1 L220.4 331.2 L221.2 331.3 L222.1 331.4 L222.9 331.4 L223.8 331.5 L224.6 331.6 L225.5 331.6 L226.3 331.7 L227.1 331.8 L228.0 331.9 L228.8 331.9 L229.7 332.0 L230.5 332.1 L231.4 332.1 L232.2 332.2 L233.1 332.3 L233.9 332.3 L234.8 332.4 L235.6 332.5 L236.4 332.5 L237.3 332.6 L238.1 332.6 L239.0 332.7 L239.8 332.8 L240.7 332.8 L241.5 332.9 L242.4 333.0 L243.2 333.0 L244.0 333.1 L244.9 333.1 L245.7 333.2 L246.6 333.3 L247.4 333.3 L248.3 333.4 L249.1 333.4 L250.0 333.5 L250.8 333.6 L251.6 333.6 L252.5 333.7 L253.3 333.7 L254.2 333.8 L255.0 333.8 L255.9 333.9 L256.7 334.0 L257.6 334.0 L258.4 334.1 L259.3 334.1 L260.1 334.2 L260.9 334.2 L261.8 334.3 L262.6 334.3 L263.5 334.4 L264.3 334.4 L265.2 334.5 L266.0 334.5 L266.9 334.6 L267.7 334.6 L268.5 334.7 L269.4 334.7 L270.2 334.8 L271.1 334.8 L271.9 334.9 L272.8 334.9 L273.6 335.0 L274.5 335.0 L275.3 335.1 L276.2 335.1 L277.0 335.2 L277.8 335.2 L278.7 335.3 L279.5 335.3 L280.4 335.4 L281.2 335.4 L282.1 335.5 L282.9 335.5 L283.8 335.5 L284.6 335.6 L285.4 335.6 L286.3 335.7 L287.1 335.7 L288.0 335.8 L288.8 335.8 L289.7 335.9 L290.5 335.9 L291.4 335.9 L292.2 336.0 L293.0 336.0 L293.9 336.1 L294.7 336.1 L295.6 336.2 L296.4 336.2 L297.3 336.2 L298.1 336.3 L299.0 336.3 L299.8 336.4 L300.7 336.4 L301.5 336.4 L302.3 336.5 L303.2 336.5 L304.0 336.6 L304.9 336.6 L305.7 336.6 L306.6 336.7 L307.4 336.7 L308.3 336.8 L309.1 336.8 L309.9 336.8 L310.8 336.9 L311.6 336.9 L312.5 336.9 L313.3 337.0 L314.2 337.0 L315.0 337.1 L315.9 337.1 L316.7 337.1 L317.5 337.2 L318.4 337.2 L319.2 337.2 L320.1 337.3 L320.9 337.3 L321.8 337.3 L322.6 337.4 L323.5 337.4 L324.3 337.5 L325.2 337.5 L326.0 337.5 L326.8 337.6 L327.7 337.6 L328.5 337.6 L329.4 337.7 L330.2 337.7 L331.1 337.7 L331.9 337.8 L332.8 337.8 L333.6 337.8 L334.4 337.9 L335.3 337.9 L336.1 337.9 L337.0 338.0 L337.8 338.0 L338.7 338.0 L339.5 338.1 L340.4 338.1 L341.2 338.1 L342.0 338.2 L342.9 338.2 L343.7 338.2 L344.6 338.3 L345.4 338.3 L346.3 338.3 L347.1 338.3 L348.0 338.4 L348.8 338.4 L349.7 338.4 L350.5 338.5 L351.3 338.5 L352.2 338.5 L353.0 338.6 L353.9 338.6 L354.7 338.6 L355.6 338.6 L356.4 338.7 L357.3 338.7 L358.1 338.7 L358.9 338.8 L359.8 338.8 L360.6 338.8 L361.5 338.9 L362.3 338.9 L363.2 338.9 L364.0 338.9 L364.9 339.0 L365.7 339.0 L366.6 339.0 L367.4 339.1 L368.2 339.1 L369.1 339.1 L369.9 339.1 L370.8 339.2 L371.6 339.2 L372.5 339.2 L373.3 339.2 L374.2 339.3 L375.0 339.3 L375.8 339.3 L376.7 339.4 L377.5 339.4 L378.4 339.4 L379.2 339.4 L380.1 339.5 L380.9 339.5 L381.8 339.5 L382.6 339.5 L383.4 339.6 L384.3 339.6 L385.1 339.6 L386.0 339.6 L386.8 339.7 L387.7 339.7 L388.5 339.7 L389.4 339.7 L390.2 339.8 L391.1 339.8 L391.9 339.8 L392.7 339.8 L393.6 339.9 L394.4 339.9 L395.3 339.9 L396.1 339.9 L397.0 340.0 L397.8 340.0 L398.7 340.0 L399.5 340.0" stroke="#000000"/>
<path d="M62.4 216.8 L62.5 217.8 L62.7 218.8 L62.8 219.8 L63.0 220.7 L63.1 221.6 L63.2 222.5 L63.4 223.4 L63.5 224.3 L63.7 225.1 L63.8 226.0 L63.9 226.8 L64.1 227.6 L64.2 228.4 L64.5 230.0 L64.8 231.5 L65.1 232.9 L65.4 234.4 L65.6 235.7 L65.9 237.1 L66.2 238.4 L66.5 239.6 L66.8 240.8 L67.0 242.0 L67.3 243.2 L67.6 244.3 L67.9 245.4 L68.2 246.5 L68.5 247.5 L68.7 248.5 L69.0 249.5 L69.3 250.4 L69.6 251.4 L69.9 252.3 L70.1 253.2 L70.4 254.1 L70.7 254.9 L71.0 255.8 L71.3 256.6 L71.6 257.4 L71.8 258.2 L72.1 258.9 L72.4 259.7 L72.8 260.8 L73.2 261.8 L73.7 262.9 L74.1 263.9 L74.5 264.8 L74.9 265.8 L75.4 266.7 L75.8 267.6 L76.2 268.5 L76.6 269.3 L77.0 270.1 L77.5 270.9 L77.9 271.7 L78.3 272.5 L78.7 273.2 L79.2 273.9 L79.6 274.7 L80.0 275.3 L80.6 276.2 L81.1 277.1 L81.7 278.0 L82.3 278.8 L82.8 279.6 L83.4 280.4 L83.9 281.1 L84.5 281.9 L85.1 282.6 L85.6 283.3 L86.2 284.0 L86.8 284.6 L87.3 285.3 L87.9 285.9 L88.4 286.5 L89.0 287.1 L89.6 287.7 L90.1 288.3 L90.8 289.0 L91.5 289.7 L92.3 290.3 L93.0 291.0 L93.7 291.6 L94.4 292.2 L95.1 292.8 L95.8 293.4 L96.5 293.9 L97.2 294.5 L97.9 295.0 L98.6 295.6 L99.3 296.1 L100.0 296.6 L100.7 297.1 L101.4 297.5 L102.1 298.0 L102.8 298.5 L103.5 298.9 L104.2 299.3 L104.9 299.8 L105.6 300.2 L106.3 300.6 L107.0 301.0 L107.7 301.4 L108.4 301.8 L109.1 302.2 L110.0 302.6 L110.8 303.1 L111.7 303.5 L112.5 303.9 L113.4 304.3 L114.2 304.7 L115.1 305.1 L115.9 305.5 L116.8 305.9 L117.6 306.2 L118.4 306.6 L119.9 307.2 L120.7 307.5 L121.5 307.9 L122.4 308.2 L123.2 308.5 L124.1 308.8 L124.9 309.1 L125.8 309.4 L126.6 309.7 L127.5 310.0 L128.3 310.3 L129.1 310.6 L130.0 310.9 L130.8 311.2 L131.7 311.4 L132.5 311.7 L133.4 312.0 L134.2 312.2 L135.1 312.5 L135.9 312.7 L136.7 313.0 L137.6 313.2 L138.4 313.4 L139.3 313.7 L140.1 313.9 L141.0 314.1 L141.8 314.4 L142.7 314.6 L143.5 314.8 L144.4 315.0 L145.2 315.2 L146.0 315.4 L146.9 315.6 L147.7 315.8 L148.6 316.0 L149.4 316.2 L150.3 316.4 L151.1 316.6 L152.0 316.8 L152.8 317.0 L153.6 317.2 L154.5 317.4 L155.3 317.5 L156.2 317.7 L157.0 317.9 L157.9 318.1 L158.7 318.2 L159.6 318.4 L160.4 318.6 L161.2 318.7 L162.1 318.9 L162.9 319.0 L163.8 319.2 L164.6 319.4 L165.5 319.5 L166.3 319.7 L167.2 319.8 L168.0 320.0 L168.9 320.1 L169.7 320.3 L170.5 320.4 L171.4 320.5 L172.2 320.7 L173.1 320.8 L173.9 321.0 L174.8 321.1 L175.6 321.2 L176.5 321.4 L177.3 321.5 L178.1 321.6 L179.0 321.8 L179.8 321.9 L180.7 322.0 L181.5 322.1 L182.4 322.3 L183.2 322.4 L184.1 322.5 L184.9 322.6 L185.7 322.7 L186.6 322.9 L187.4 323.0 L188.3 323.1 L189.1 323.2 L190.0 323.3 L190.8 323.4 L191.7 323.5 L192.5 323.6 L193.4 323.7 L194.2 323.9 L195.0 324.0 L195.9 324.1 L196.7 324.2 L197.6 324.3 L198.4 324.4 L199.3 324.5 L200.1 324.6 L201.0 324.7 L201.8 324.8 L202.6 324.9 L203.5 325.0 L204.3 325.1 L205.2 325.2 L206.0 325.3 L206.9 325.4 L207.7 325.4 L208.6 325.5 L209.4 325.6 L210.3 325.7 L211.1 325.8 L211.9 325.9 L212.8 326.0 L213.6 326.1 L214.5 326.2 L215.3 326.3 L216.2 326.3 L217.0 326.4 L217.9 326.5 L218.7 326.6 L219.5 326.7 L220.4 326.8 L221.2 326.8 L222.1 326.9 L222.9 327.0 L223.8 327.1 L224.6 327.2 L225.5 327.2 L226.3 327.3 L227.1 327.4 L228.0 327.5 L228.8 327.5 L229.7 327.6 L230.5 327.7 L231.4 327.8 L232.2 327.8 L233.1 327.9 L233.9 328.0 L234.8 328.1 L235.6 328.1 L236.4 328.2 L237.3 328.3 L238.1 328.3 L239.0 328.4 L239.8 328.5 L240.7 328.5 L241.5 328.6 L242.4 328.7 L243.2 328.7 L244.0 328.8 L244.9 328.9 L245.7 328.9 L246.6 329.0 L247.4 329.1 L248.3 329.1 L249.1 329.2 L250.0 329.3 L250.8 329.3 L251.6 329.4 L252.5 329.5 L253.3 329.5 L254.2 329.6 L255.0 329.6 L255.9 329.7 L256.7 329.8 L257.6 329.8 L258.4 329.9 L259.3 329.9 L260.1 330.0 L260.9 330.1 L261.8 330.1 L262.6 330.2 L263.5 330.2 L264.3 330.3 L265.2 330.3 L266.0 330.4 L266.9 330.5 L267.7 330.5 L268.5 330.6 L269.4 330.6 L270.2 330.7 L271.1 330.7 L271.9 330.8 L272.8 330.8 L273.6 330.9 L274.5 330.9 L275.3 331.0 L276.2 331.0 L277.0 331.1 L277.8 331.1 L278.7 331.2 L279.5 331.2 L280.4 331.3 L281.2 331.3 L282.1 331.4 L282.9 331.4 L283.8 331.5 L284.6 331.5 L285.4 331.6 L286.3 331.6 L287.1 331.7 L288.0 331.7 L288.8 331.8 L289.7 331.8 L290.5 331.9 L291.4 331.9 L292.2 332.0 L293.0 332.0 L293.9 332.1 L294.7 332.1 L295.6 332.2 L296.4 332.2 L297.3 332.2 L298.1 332.3 L299.0 332.3 L299.8 332.4 L300.7 332.4 L301.5 332.5 L302.3 332.5 L303.2 332.6 L304.0 332.6 L304.9 332.6 L305.7 332.7 L306.6 332.7 L307.4 332.8 L308.3 332.8 L309.1 332.9 L309.9 332.9 L310.8 332.9 L311.6 333.0 L312.5 333.0 L313.3 333.1 L314.2 333.1 L315.0 333.1 L315.9 333.2 L316.7 333.2 L317.5 333.3 L318.4 333.3 L319.2 333.3 L320.1 333.4 L320.9 333.4 L321.8 333.5 L322.6 333.5 L323.5 333.5 L324.3 333.6 L325.2 333.6 L326.0 333.6 L326.8 333.7 L327.7 333.7 L328.5 333.8 L329.4 333.8 L330.2 333.8 L331.1 333.9 L331.9 333.9 L332.8 333.9 L333.6 334.0 L334.4 334.0 L335.3 334.0 L336.1 334.1 L337.0 334.1 L337.8 334.2 L338.7 334.2 L339.5 334.2 L340.4 334.3 L341.2 334.3 L342.0 334.3 L342.9 334.4 L343.7 334.4 L344.6 334.4 L345.4 334.5 L346.3 334.5 L347.1 334.5 L348.0 334.6 L348.8 334.6 L349.7 334.6 L350.5 334.7 L351.3 334.7 L352.2 334.7 L353.0 334.8 L353.9 334.8 L354.7 334.8 L355.6 334.9 L356.4 334.9 L357.3 334.9 L358.1 334.9 L358.9 335.0 L359.8 335.0 L360.6 335.0 L361.5 335.1 L362.3 335.1 L363.2 335.1 L364.0 335.2 L364.9 335.2 L365.7 335.2 L366.6 335.3 L367.4 335.3 L368.2 335.3 L369.1 335.3 L369.9 335.4 L370.8 335.4 L371.6 335.4 L372.5 335.5 L373.3 335.5 L374.2 335.5 L375.0 335.6 L375.8 335.6 L376.7 335.6 L377.5 335.6 L378.4 335.7 L379.2 335.7 L380.1 335.7 L380.9 335.8 L381.8 335.8 L382.6 335.8 L383.4 335.8 L384.3 335.9 L385.1 335.9 L386.0 335.9 L386.8 335.9 L387.7 336.0 L388.5 336.0 L389.4 336.0 L390.2 336.1 L391.1 336.1 L391.9 336.1 L392.7 336.1 L393.6 336.2 L394.4 336.2 L395.3 336.2 L396.1 336.2 L397.0 336.3 L397.8 336.3 L398.7 336.3 L399.5 336.3" stroke="#000000" stroke-dasharray="5.6 2.3"/>
<path d="M62.4 213.3 L62.5 214.4 L62.7 215.4 L62.8 216.5 L63.0 217.5 L63.1 218.5 L63.2 219.4 L63.4 220.4 L63.5 221.3 L63.7 222.2 L63.8 223.1 L63.9 224.0 L64.1 224.9 L64.2 225.7 L64.4 226.5 L64.5 227.3 L64.7 228.1 L64.9 229.7 L65.2 231.2 L65.5 232.6 L65.8 234.0 L66.1 235.4 L66.3 236.7 L66.6 238.0 L66.9 239.2 L67.2 240.4 L67.5 241.6 L67.8 242.7 L68.0 243.8 L68.3 244.9 L68.6 245.9 L68.9 246.9 L69.2 247.9 L69.4 248.8 L69.7 249.8 L70.0 250.7 L70.3 251.6 L70.6 252.4 L70.8 253.3 L71.1 254.1 L71.4 254.9 L71.7 255.7 L72.0 256.5 L72.3 257.2 L72.7 258.3 L73.1 259.4 L73.5 260.4 L73.9 261.4 L74.4 262.4 L74.8 263.4 L75.2 264.3 L75.6 265.2 L76.1 266.0 L76.5 266.9 L76.9 267.7 L77.3 268.5 L77.7 269.3 L78.2 270.0 L78.6 270.8 L79.0 271.5 L79.4 272.2 L79.9 272.9 L80.4 273.8 L81.0 274.6 L81.6 275.5 L82.1 276.3 L82.7 277.1 L83.2 277.8 L83.8 278.6 L84.4 279.3 L84.9 280.0 L85.5 280.7 L86.1 281.4 L86.6 282.0 L87.2 282.7 L87.7 283.3 L88.3 283.9 L88.9 284.5 L89.4 285.1 L90.1 285.8 L90.8 286.5 L91.5 287.1 L92.3 287.8 L93.0 288.4 L93.7 289.0 L94.4 289.6 L95.1 290.2 L95.8 290.8 L96.5 291.3 L97.2 291.8 L97.9 292.4 L98.6 292.9 L99.3 293.4 L100.0 293.9 L100.7 294.4 L101.4 294.8 L102.1 295.3 L102.8 295.7 L103.5 296.2 L104.2 296.6 L104.9 297.0 L105.6 297.5 L106.3 297.9 L107.0 298.3 L107.7 298.6 L108.4 299.0 L109.3 299.5 L110.1 299.9 L111.0 300.4 L111.8 300.8 L112.7 301.2 L113.5 301.6 L114.4 302.0 L115.2 302.4 L116.0 302.7 L116.9 303.1 L117.7 303.5 L118.6 303.8 L119.9 304.4 L120.7 304.7 L121.5 305.0 L122.4 305.4 L123.2 305.7 L124.1 306.0 L124.9 306.3 L125.8 306.6 L126.6 306.9 L127.5 307.2 L128.3 307.5 L129.1 307.8 L130.0 308.0 L130.8 308.3 L131.7 308.6 L132.5 308.9 L133.4 309.1 L134.2 309.4 L135.1 309.6 L135.9 309.9 L136.7 310.1 L137.6 310.4 L138.4 310.6 L139.3 310.8 L140.1 311.1 L141.0 311.3 L141.8 311.5 L142.7 311.7 L143.5 312.0 L144.4 312.2 L145.2 312.4 L146.0 312.6 L146.9 312.8 L147.7 313.0 L148.6 313.2 L149.4 313.4 L150.3 313.6 L151.1 313.8 L152.0 314.0 L152.8 314.2 L153.6 314.4 L154.5 314.5 L155.3 314.7 L156.2 314.9 L157.0 315.1 L157.9 315.2 L158.7 315.4 L159.6 315.6 L160.4 315.8 L161.2 315.9 L162.1 316.1 L162.9 316.3 L163.8 316.4 L164.6 316.6 L165.5 316.7 L166.3 316.9 L167.2 317.0 L168.0 317.2 L168.9 317.3 L169.7 317.5 L170.5 317.6 L171.4 317.8 L172.2 317.9 L173.1 318.1 L173.9 318.2 L174.8 318.3 L175.6 318.5 L176.5 318.6 L177.3 318.8 L178.1 318.9 L179.0 319.0 L179.8 319.1 L180.7 319.3 L181.5 319.4 L182.4 319.5 L183.2 319.7 L184.1 319.8 L184.9 319.9 L185.7 320.0 L186.6 320.1 L187.4 320.3 L188.3 320.4 L189.1 320.5 L190.0 320.6 L190.8 320.7 L191.7 320.8 L192.5 321.0 L193.4 321.1 L194.2 321.2 L195.0 321.3 L195.9 321.4 L196.7 321.5 L197.6 321.6 L198.4 321.7 L199.3 321.8 L200.1 321.9 L201.0 322.0 L201.8 322.1 L202.6 322.2 L203.5 322.3 L204.3 322.4 L205.2 322.5 L206.0 322.6 L206.9 322.7 L207.7 322.8 L208.6 322.9 L209.4 323.0 L210.3 323.1 L211.1 323.2 L211.9 323.3 L212.8 323.4 L213.6 323.5 L214.5 323.6 L215.3 323.7 L216.2 323.8 L217.0 323.8 L217.9 323.9 L218.7 324.0 L219.5 324.1 L220.4 324.2 L221.2 324.3 L222.1 324.4 L222.9 324.4 L223.8 324.5 L224.6 324.6 L225.5 324.7 L226.3 324.8 L227.1 324.8 L228.0 324.9 L228.8 325.0 L229.7 325.1 L230.5 325.2 L231.4 325.2 L232.2 325.3 L233.1 325.4 L233.9 325.5 L234.8 325.5 L235.6 325.6 L236.4 325.7 L237.3 325.8 L238.1 325.8 L239.0 325.9 L239.8 326.0 L240.7 326.1 L241.5 326.1 L242.4 326.2 L243.2 326.3 L244.0 326.3 L244.9 326.4 L245.7 326.5 L246.6 326.6 L247.4 326.6 L248.3 326.7 L249.1 326.8 L250.0 326.8 L250.8 326.9 L251.6 327.0 L252.5 327.0 L253.3 327.1 L254.2 327.2 L255.0 327.2 L255.9 327.3 L256.7 327.3 L257.6 327.4 L258.4 327.5 L259.3 327.5 L260.1 327.6 L260.9 327.7 L261.8 327.7 L262.6 327.8 L263.5 327.8 L264.3 327.9 L265.2 328.0 L266.0 328.0 L266.9 328.1 L267.7 328.1 L268.5 328.2 L269.4 328.3 L270.2 328.3 L271.1 328.4 L271.9 328.4 L272.8 328.5 L273.6 328.5 L274.5 328.6 L275.3 328.6 L276.2 328.7 L277.0 328.8 L277.8 328.8 L278.7 328.9 L279.5 328.9 L280.4 329.0 L281.2 329.0 L282.1 329.1 L282.9 329.1 L283.8 329.2 L284.6 329.2 L285.4 329.3 L286.3 329.3 L287.1 329.4 L288.0 329.4 L288.8 329.5 L289.7 329.5 L290.5 329.6 L291.4 329.6 L292.2 329.7 L293.0 329.7 L293.9 329.8 L294.7 329.8 L295.6 329.9 L296.4 329.9 L297.3 330.0 L298.1 330.0 L299.0 330.1 L299.8 330.1 L300.7 330.2 L301.5 330.2 L302.3 330.3 L303.2 330.3 L304.0 330.4 L304.9 330.4 L305.7 330.5 L306.6 330.5 L307.4 330.5 L308.3 330.6 L309.1 330.6 L309.9 330.7 L310.8 330.7 L311.6 330.8 L312.5 330.8 L313.3 330.9 L314.2 330.9 L315.0 330.9 L315.9 331.0 L316.7 331.0 L317.5 331.1 L318.4 331.1 L319.2 331.2 L320.1 331.2 L320.9 331.2 L321.8 331.3 L322.6 331.3 L323.5 331.4 L324.3 331.4 L325.2 331.5 L326.0 331.5 L326.8 331.5 L327.7 331.6 L328.5 331.6 L329.4 331.7 L330.2 331.7 L331.1 331.7 L331.9 331.8 L332.8 331.8 L333.6 331.8 L334.4 331.9 L335.3 331.9 L336.1 332.0 L337.0 332.0 L337.8 332.0 L338.7 332.1 L339.5 332.1 L340.4 332.2 L341.2 332.2 L342.0 332.2 L342.9 332.3 L343.7 332.3 L344.6 332.3 L345.4 332.4 L346.3 332.4 L347.1 332.5 L348.0 332.5 L348.8 332.5 L349.7 332.6 L350.5 332.6 L351.3 332.6 L352.2 332.7 L353.0 332.7 L353.9 332.7 L354.7 332.8 L355.6 332.8 L356.4 332.8 L357.3 332.9 L358.1 332.9 L358.9 332.9 L359.8 333.0 L360.6 333.0 L361.5 333.0 L362.3 333.1 L363.2 333.1 L364.0 333.1 L364.9 333.2 L365.7 333.2 L366.6 333.2 L367.4 333.3 L368.2 333.3 L369.1 333.3 L369.9 333.4 L370.8 333.4 L371.6 333.4 L372.5 333.5 L373.3 333.5 L374.2 333.5 L375.0 333.6 L375.8 333.6 L376.7 333.6 L377.5 333.7 L378.4 333.7 L379.2 333.7 L380.1 333.8 L380.9 333.8 L381.8 333.8 L382.6 333.8 L383.4 333.9 L384.3 333.9 L385.1 333.9 L386.0 334.0 L386.8 334.0 L387.7 334.0 L388.5 334.1 L389.4 334.1 L390.2 334.1 L391.1 334.1 L391.9 334.2 L392.7 334.2 L393.6 334.2 L394.4 334.3 L395.3 334.3 L396.1 334.3 L397.0 334.4 L397.8 334.4 L398.7 334.4 L399.5 334.4" stroke="#000000" stroke-dasharray="2.8 2.5"/>
</g>
<path d="M62.40 368.40 v-4.8 M90.49 368.40 v-4.8 M118.58 368.40 v-4.8 M146.68 368.40 v-4.8 M174.77 368.40 v-4.8 M202.86 368.40 v-4.8 M230.95 368.40 v-4.8 M259.04 368.40 v-4.8 M287.13 368.40 v-4.8 M315.23 368.40 v-4.8 M343.32 368.40 v-4.8 M371.41 368.40 v-4.8 M399.50 368.40 v-4.8 M62.40 31.30 v4.8 M76.45 31.30 v2.8 M90.49 31.30 v2.8 M104.54 31.30 v2.8 M118.58 31.30 v4.8 M132.63 31.30 v2.8 M146.68 31.30 v2.8 M160.72 31.30 v2.8 M174.77 31.30 v4.8 M188.81 31.30 v2.8 M202.86 31.30 v2.8 M216.90 31.30 v2.8 M230.95 31.30 v4.8 M245.00 31.30 v2.8 M259.04 31.30 v2.8 M273.09 31.30 v2.8 M287.13 31.30 v4.8 M301.18 31.30 v2.8 M315.23 31.30 v2.8 M329.27 31.30 v2.8 M343.32 31.30 v4.8 M357.36 31.30 v2.8 M371.41 31.30 v2.8 M385.45 31.30 v2.8 M399.50 31.30 v4.8 M62.40 368.40 h4.8 M399.50 368.40 h-4.8 M62.40 354.92 h2.8 M399.50 354.92 h-2.8 M62.40 341.43 h2.8 M399.50 341.43 h-2.8 M62.40 327.95 h2.8 M399.50 327.95 h-2.8 M62.40 314.46 h2.8 M399.50 314.46 h-2.8 M62.40 300.98 h4.8 M399.50 300.98 h-4.8 M62.40 287.50 h2.8 M399.50 287.50 h-2.8 M62.40 274.01 h2.8 M399.50 274.01 h-2.8 M62.40 260.53 h2.8 M399.50 260.53 h-2.8 M62.40 247.04 h2.8 M399.50 247.04 h-2.8 M62.40 233.56 h4.8 M399.50 233.56 h-4.8 M62.40 220.08 h2.8 M399.50 220.08 h-2.8 M62.40 206.59 h2.8 M399.50 206.59 h-2.8 M62.40 193.11 h2.8 M399.50 193.11 h-2.8 M62.40 179.62 h2.8 M399.50 179.62 h-2.8 M62.40 166.14 h4.8 M399.50 166.14 h-4.8 M62.40 152.66 h2.8 M399.50 152.66 h-2.8 M62.40 139.17 h2.8 M399.50 139.17 h-2.8 M62.40 125.69 h2.8 M399.50 125.69 h-2.8 M62.40 112.20 h2.8 M399.50 112.20 h-2.8 M62.40 98.72 h4.8 M399.50 98.72 h-4.8 M62.40 85.24 h2.8 M399.50 85.24 h-2.8 M62.40 71.75 h2.8 M399.50 71.75 h-2.8 M62.40 58.27 h2.8 M399.50 58.27 h-2.8 M62.40 44.78 h2.8 M399.50 44.78 h-2.8 M62.40 31.30 h4.8 M399.50 31.30 h-4.8" stroke="#000" stroke-width="0.8" fill="none"/>
<rect x="62.40" y="31.30" width="337.10" height="337.10" fill="none" stroke="#000" stroke-width="1.1"/>
<g font-family="'Liberation Serif', serif" font-size="16" fill="#000">
<text x="143.3" y="16.8" font-size="17.2" textLength="174.2" lengthAdjust="spacing">Gluino tuning contours</text>
<text x="58.6" y="373.6" text-anchor="end">0</text>
<text x="58.6" y="306.2" text-anchor="end">1000</text>
<text x="58.6" y="238.8" text-anchor="end">2000</text>
<text x="58.6" y="171.3" text-anchor="end">3000</text>
<text x="58.6" y="103.9" text-anchor="end">4000</text>
<text x="58.6" y="36.5" text-anchor="end">5000</text>
<text x="50.8" y="387.4">10<tspan dx="0.3" dy="-7.5" font-size="12">4</tspan></text>
<text x="106.9" y="387.4">10<tspan dx="0.3" dy="-7.5" font-size="12">6</tspan></text>
<text x="163.1" y="387.4">10<tspan dx="0.3" dy="-7.5" font-size="12">8</tspan></text>
<text x="216.3" y="387.4">10<tspan dx="0.3" dy="-7.5" font-size="12">10</tspan></text>
<text x="272.5" y="387.4">10<tspan dx="0.3" dy="-7.5" font-size="12">12</tspan></text>
<text x="328.7" y="387.4">10<tspan dx="0.3" dy="-7.5" font-size="12">14</tspan></text>
<text x="384.9" y="387.4">10<tspan dx="0.3" dy="-7.5" font-size="12">16</tspan></text>
<text x="231.2" y="412" text-anchor="middle" textLength="57" lengthAdjust="spacing">Λ [GeV]</text>
<text transform="translate(14.6 200.4) rotate(-90)" text-anchor="middle" textLength="131.2" lengthAdjust="spacing">Gluino Mass [GeV]</text>
</g>
<g font-family="'Liberation Sans', sans-serif" font-size="16.2" text-anchor="middle">
<text x="370.8" y="71.5" fill="#00aa00">Δ=100</text>
<text x="370.8" y="91.5" fill="#0000ff">Δ=20</text>
<text x="370.8" y="111.5" fill="#ff0000">Δ=10</text>
<text x="370.8" y="131.6" fill="#000">Δ=5</text>
</g>
</svg>
</body></html>
